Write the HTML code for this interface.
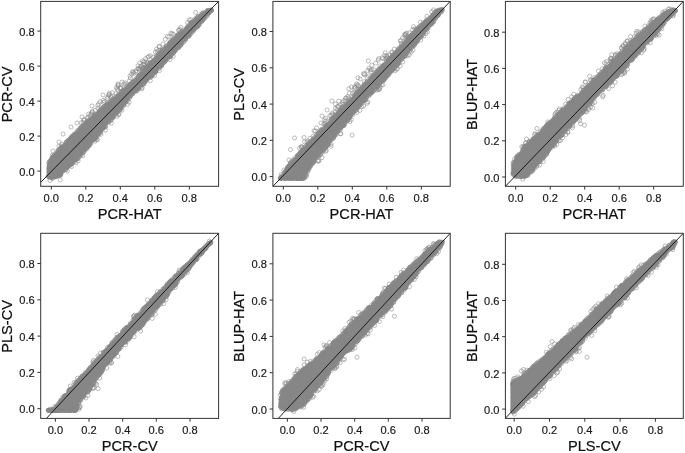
<!DOCTYPE html>
<html lang="en"><head><meta charset="utf-8"><title>Scatter plot matrix</title>
<style>html,body{margin:0;padding:0;background:#fff}svg{display:block}.tl{font-family:"Liberation Sans",Arial,sans-serif;font-size:11.1px;fill:#1a1a1a;stroke:#1a1a1a;stroke-width:0.18px}.at{font-family:"Liberation Sans",Arial,sans-serif;font-size:14.6px;fill:#111;stroke:#111;stroke-width:0.22px}.tk{stroke:#333;stroke-width:1}.pts{fill:none;stroke:none;marker-start:url(#m);marker-mid:url(#m);marker-end:url(#m)}</style></head><body>
<svg width="685" height="453" viewBox="0 0 685 453">
<defs><marker id="m" markerWidth="6" markerHeight="6" refX="3" refY="3" markerUnits="userSpaceOnUse" overflow="visible"><circle cx="3" cy="3" r="2.05" fill="none" stroke="#868686" stroke-width="0.55"/></marker></defs>
<rect width="685" height="453" fill="#fff"/>
<clipPath id="c0"><rect x="40.7" y="1.4" width="177.9" height="184.9"/></clipPath>
<g clip-path="url(#c0)">
<polygon fill="#868686" stroke="#868686" stroke-width="0.6" stroke-linejoin="round" points="47.0,165.3 50.0,159.9 59.9,148.0 69.8,138.0 79.7,128.1 89.7,118.7 99.6,109.7 109.5,101.6 119.5,93.1 129.4,84.5 139.9,74.1 149.9,62.6 159.8,52.2 169.7,41.7 179.7,32.5 189.6,23.6 199.5,15.0 207.5,9.3 213.0,9.0 213.0,9.0 207.5,15.8 199.5,24.7 189.6,36.0 179.7,46.9 169.7,57.6 159.8,68.1 149.9,78.6 139.9,88.1 129.4,99.1 119.5,110.5 109.5,122.3 99.6,133.9 89.7,145.4 79.7,157.3 69.8,166.3 59.9,176.3 50.0,179.2 47.0,177.8"/>
<polyline class="pts" points="68.3,140.6 129.9,84.4 146.8,67.7 51.8,159.5 71.6,138.3 201.1,16.5 58.7,150.5 68.5,141.1 204.4,12.8 150.2,63.0 108.3,105.1 131.9,84.1 157.0,57.7 92.7,118.2 69.9,140.4 177.8,34.8 158.3,54.0 132.1,82.6 182.6,31.1 138.1,77.8 209.8,10.6 80.9,128.4 138.9,77.2 127.3,86.7 105.6,106.7 145.2,68.3 86.1,123.0 180.2,34.1 191.0,24.3 68.4,140.6 124.5,89.7 93.0,118.0 60.8,148.0 195.7,18.5 118.4,94.9 71.5,136.5 158.8,55.5 80.6,127.8 196.6,20.1 83.0,125.7 52.5,157.9 80.3,129.2 104.4,106.7 124.8,89.6 197.4,17.3 162.8,50.2 103.3,106.9 49.8,161.0 73.5,136.7 123.3,90.7 161.7,52.1 56.1,155.0 52.7,157.6 187.4,26.7 144.6,70.7 98.2,113.1 99.7,111.3 61.8,146.7 75.7,132.8 51.1,160.7 186.3,28.5 124.4,91.3 68.1,141.8 169.7,43.0 79.5,128.8 57.3,153.6 146.3,68.7 195.7,19.9 51.5,160.0 180.7,32.8 78.6,130.3 62.4,147.1 50.0,161.3 95.6,115.3 167.7,46.4 128.9,87.3 188.6,25.6 83.1,126.1 99.3,112.5 89.9,119.8 209.4,11.3 203.2,12.8 103.6,107.8 119.4,94.7 99.2,112.3 170.9,43.0 53.6,156.1 58.2,151.8 114.1,99.5 87.7,121.2 187.3,27.9 170.1,42.9 137.6,79.0 156.8,56.0 161.9,51.5 176.7,36.3 201.0,15.8 71.9,137.7 150.9,63.0 70.8,138.0 120.6,93.6 177.5,35.6 195.5,20.9 173.0,40.0 52.9,157.8 106.7,104.8 74.1,134.6 70.9,137.9 87.6,123.1 106.3,105.9 57.1,154.0 191.5,22.5 152.6,62.3 73.5,136.4 129.7,85.8 60.1,149.8 148.4,66.3 85.5,124.0 53.4,157.6 66.1,142.5 139.2,75.1 152.7,61.5 100.9,110.0 153.8,61.0 105.4,105.8 68.7,141.4 99.3,112.6 112.6,101.4 198.5,18.5 66.2,142.2 61.3,147.2 140.2,74.5 206.9,10.8 197.6,17.1 163.2,49.1 58.1,150.4 180.9,34.0 160.4,52.6 70.9,138.7 124.2,90.4 55.2,155.7 180.1,34.3 166.3,46.5 180.6,33.3 173.2,38.9 91.4,118.1 178.1,34.7 88.4,121.0 69.9,138.9 111.8,101.3 129.6,85.3 94.4,115.4 147.6,67.6 147.0,66.2 86.8,121.7 150.3,62.5 106.3,106.6 169.0,44.3 95.2,115.7 179.6,35.2 115.9,96.9 138.8,77.7 158.8,54.1 133.1,82.4 89.8,120.6 209.6,11.2 62.9,145.7 100.9,110.0 138.2,76.2 51.8,158.7 72.7,137.7 179.7,35.0 177.1,36.5 152.7,61.8 196.7,19.9 172.4,40.2 96.6,115.1 154.0,59.6 103.5,107.1 171.5,41.6 110.9,102.1 72.4,137.3 192.5,22.9 161.6,50.6 170.6,42.7 139.9,76.6 177.0,36.9 121.3,94.1 140.9,74.4 57.4,153.2 139.1,75.4 182.2,32.7 164.1,48.9 180.3,34.3 129.4,85.6 193.3,22.1 65.0,145.2 192.4,23.1 108.6,104.1 62.1,148.4 149.8,63.2 122.5,90.9 118.1,95.8 188.4,27.2 69.9,139.8 149.4,64.2 115.7,96.8 134.7,80.6 129.9,85.4 69.3,139.9 132.0,83.7 190.1,24.0 75.4,134.8 48.9,162.8 58.2,150.5 123.3,90.8 208.8,11.7 54.3,155.3 211.5,10.0 136.0,80.5 66.9,141.9 116.5,98.0 81.4,126.8 165.5,48.5 136.9,77.9 94.8,114.7 89.4,121.1 190.9,25.1 174.2,40.2 119.4,95.2 114.3,100.0 169.4,44.7 208.1,10.9 60.2,148.2 73.4,136.7 107.1,104.7 131.3,83.6 58.9,150.7 55.9,153.1 83.4,124.9 111.1,101.1 169.7,43.4 148.2,66.6 51.8,160.3 54.5,156.8 122.0,93.4 192.2,23.1 198.9,17.6 107.6,104.8 194.3,19.9 201.2,14.1 114.5,99.4 170.8,41.4 107.6,105.3 72.5,136.7 142.5,71.4 61.3,148.1 157.1,56.3 181.3,31.4 199.0,16.3 121.4,92.4 66.5,142.4 196.8,19.3 191.5,22.5 207.6,10.6 145.6,69.3 158.8,55.8 109.0,102.5 77.4,130.8 95.4,114.2 166.6,45.7 100.9,109.2 161.8,50.5 130.4,84.3 121.5,92.1 207.6,10.7 74.6,135.0 127.9,86.9 73.5,134.9 202.6,13.2 128.1,86.5 102.1,108.3 74.9,134.3 145.6,69.9 113.2,100.4 68.1,140.4 52.4,157.3 112.0,99.9 143.8,70.9 133.1,81.9 196.4,19.6 198.3,16.4 202.4,13.8 179.7,34.4 126.3,88.8 133.9,81.5 113.0,101.1 113.3,98.8 53.9,155.9 179.6,34.2 87.8,122.1 51.9,160.3 124.4,91.4 166.2,47.1 119.4,95.3 107.4,105.2 156.3,56.4 74.0,135.5 48.9,162.9 145.3,69.0 135.1,79.5 190.7,22.8 116.0,98.4 177.5,36.5 50.0,162.0 51.5,159.0 146.4,67.9 84.6,124.2 58.2,151.8 68.2,141.9 109.2,104.0 103.0,109.5 140.6,74.2 194.3,21.4 107.7,103.6 77.6,131.8 143.0,71.1 110.9,102.0 99.7,110.7 103.7,102.4 124.9,82.9 112.3,92.6 92.4,111.8 107.2,98.5 190.8,19.8 91.3,113.5 162.9,44.1 81.3,122.7 118.0,83.9 91.2,114.4 52.2,155.4 88.7,114.1 118.2,85.8 109.4,93.4 187.6,22.6 142.4,68.1 147.1,63.8 111.0,97.6 129.2,81.1 169.0,36.9 145.6,58.7 117.1,89.1 90.2,115.9 172.0,33.8 178.7,30.0 83.1,122.3 118.1,90.0 87.0,118.3 180.9,27.4 133.3,71.9 59.0,146.3 156.7,49.2 165.3,39.3 173.3,34.2 132.7,71.7 179.9,29.2 139.8,68.4 138.4,68.6 139.8,63.0 150.3,55.7 141.3,66.1 143.1,64.4 108.9,94.9 115.9,93.7 109.0,94.7 171.0,33.1 92.2,111.6 167.4,36.3 122.0,82.1 118.0,85.1 143.5,68.0 138.0,65.8 142.5,68.8 135.7,72.2 144.4,61.5 84.4,119.9 155.4,52.0 140.8,66.9 130.4,78.0 148.7,56.6 135.9,70.9 100.2,101.8 153.1,57.2 125.7,84.8 120.7,87.6 140.0,69.6 157.3,51.5 95.3,110.3 119.9,88.3 120.9,88.3 83.8,119.9 147.6,62.6 142.3,60.9 103.3,100.5 97.8,105.3 123.9,84.0 143.9,67.4 143.7,61.9 159.4,46.8 61.8,144.1 88.1,117.0 98.8,103.8 146.9,62.7 97.9,108.3 144.8,64.2 130.0,76.0 159.1,46.4 147.9,57.2 104.7,101.4 158.9,50.2 116.4,87.6 110.9,95.9 137.8,68.7 189.2,19.9 178.9,30.6 133.9,73.4 131.6,74.0 195.6,12.4 77.1,158.7 70.2,165.0 94.8,137.0 71.1,163.7 173.8,50.6 185.4,39.2 70.4,163.2 59.1,174.0 100.7,131.0 161.0,64.6 174.9,51.1 123.5,105.5 153.1,73.5 199.3,24.6 193.1,30.6 66.5,167.8 165.4,60.0 175.9,48.5 197.6,26.2 116.4,111.8 72.9,162.0 125.6,101.7 108.5,122.2 112.4,116.6 180.3,45.3 155.2,72.7 159.9,65.7 155.3,70.9 70.5,163.7 56.7,176.7 112.6,118.0 188.1,35.9 154.7,71.4 178.4,46.5 150.3,76.4 177.2,47.7 165.4,60.8 190.0,34.5 208.5,12.4 169.9,55.8 182.0,42.4 60.0,174.2 53.0,175.8 200.3,21.5 86.5,148.9 97.7,134.3 69.4,165.5 152.3,75.5 51.9,177.2 179.6,44.6 96.5,135.3 170.5,56.3 198.2,25.5 161.6,64.2 117.5,110.3 150.7,77.3 189.0,36.3 165.1,60.5 88.9,144.6 48.3,176.2 193.0,31.4 150.5,76.5 57.5,174.8 138.5,88.4 144.8,82.2 95.7,138.1 194.1,28.7 86.8,147.5 70.9,164.2 98.3,133.5 103.2,127.4 193.8,28.9 156.1,71.0 67.2,167.2 112.3,117.8 64.1,169.8 164.2,61.3 188.9,34.9 62.5,171.4 130.0,97.0 87.6,146.2 94.3,139.4 171.0,54.2 209.2,12.6 93.3,139.6 137.1,90.8 98.5,134.0 57.3,175.3 147.0,79.5 72.8,162.0 161.2,65.8 171.0,54.3 70.6,163.7 146.0,80.6 81.6,153.9 173.7,52.7 94.5,138.3 161.5,66.0 154.6,71.1 142.5,84.5 83.1,152.3 185.5,39.2 105.9,126.1 174.9,49.6 125.8,100.6 121.4,106.1 165.2,60.7 103.6,126.7 173.7,52.2 120.9,107.6 169.9,56.7 162.8,63.6 203.9,17.2 114.8,114.2 104.9,126.1 132.7,93.8 116.5,112.4 163.3,63.0 88.5,145.3 206.0,17.0 172.1,53.6 154.7,71.5 95.4,138.0 181.3,44.2 199.6,22.4 178.4,47.8 198.4,25.2 62.3,171.6 170.0,56.7 190.8,33.7 126.0,100.5 60.3,174.7 137.1,88.8 87.3,146.2 52.4,178.2 202.3,20.8 185.2,38.4 152.3,75.0 171.3,54.7 158.5,66.9 123.8,105.1 67.1,166.4 94.9,137.5 131.0,95.7 143.6,84.3 97.0,135.1 68.1,165.7 103.8,127.8 77.8,158.6 201.5,22.0 83.7,152.1 112.4,117.6 136.9,88.9 88.9,146.0 129.2,98.2 138.8,88.1 55.2,176.5 204.3,17.9 136.3,90.3 71.2,164.3 210.1,10.9 74.9,160.1 167.8,58.5 127.1,99.2 89.8,143.3 110.0,121.1 126.9,99.4 108.6,121.7 88.0,146.3 116.1,113.8 119.3,110.4 161.2,65.8 79.8,156.3 54.5,176.8 185.4,37.9 58.5,175.0 151.8,75.8 138.1,88.8 208.9,12.7 78.5,158.0 194.4,29.2 68.6,166.0 75.5,158.7 155.5,71.3 74.5,160.1 144.4,81.9 159.1,68.2 67.8,166.7 178.2,47.2 117.2,112.6 207.5,15.4 48.9,176.0 60.0,175.7 149.9,76.1 89.7,144.2 113.8,116.8 197.9,24.0 104.1,126.8 55.5,176.4 70.7,163.1 139.2,86.8 175.6,50.0 172.8,52.3 125.3,101.8 86.8,148.2 68.3,165.8 84.1,149.6 80.3,154.7 197.6,24.6 114.7,113.5 66.4,167.6 152.9,74.0 122.9,105.0 51.8,176.5 209.6,11.2 204.1,19.2 90.6,144.0 185.3,39.9 122.5,104.8 158.8,68.3 155.5,71.7 168.5,56.6 120.1,109.3 71.3,164.0 180.5,45.1 120.1,109.5 120.4,107.5 173.0,53.0 160.8,65.8 211.2,10.2 111.4,119.7 152.4,73.6 60.9,174.7 65.7,169.5 89.3,143.9 93.5,139.9 121.1,107.3 85.0,150.0 202.4,19.9 118.0,111.3 110.5,119.8 196.7,27.6 179.1,47.3 174.8,50.6 198.7,23.3 169.3,55.3 97.7,133.9 206.6,15.3 51.5,176.9 195.9,26.9 116.6,111.9 103.1,127.2 125.8,102.2 113.4,116.4 189.8,33.6 180.8,44.9 170.9,55.8 85.6,147.8 120.0,109.7 59.5,174.0 170.3,54.5 54.0,177.4 112.7,116.4 72.1,163.3 188.4,36.4 199.5,22.1 95.1,136.7 191.8,31.4 76.6,158.9 165.0,59.8 88.6,145.0 121.0,106.2 148.4,78.0 105.3,126.9 79.8,154.9 144.6,81.3 178.8,45.4 100.5,132.6 89.8,142.9 59.7,175.1 81.0,155.1 51.3,178.1 88.4,146.1 167.5,57.6 66.0,169.7 154.3,71.4 96.0,137.9 85.0,149.0 127.3,100.8 119.4,109.2 121.2,108.0 66.5,167.2 140.7,86.7 196.7,26.5 48.5,176.8 60.4,174.4 144.3,83.2 99.9,132.7 88.8,143.9 211.0,10.7 98.2,135.3 199.9,21.8 149.4,76.6 52.0,176.7 91.1,142.3 59.6,173.8 136.3,90.6 197.8,26.4 55.7,176.2 51.7,177.2 51.9,177.1 92.3,139.9 74.6,161.6 207.7,13.1 175.7,49.7 202.9,18.9 143.3,83.6 183.3,42.0 164.7,61.9 95.5,137.8 155.3,71.5 95.0,137.5 124.1,103.0 183.6,42.0 83.6,151.3 76.0,159.1 188.4,35.1 123.9,103.5 75.9,159.0 159.4,70.6 122.0,110.2 141.5,88.8 118.6,114.8 96.9,139.7 105.5,130.1 119.0,113.9 111.3,123.2 78.1,160.8 142.2,87.8 116.8,116.3 150.3,80.7 129.1,102.1 50.0,180.5 82.8,155.8 67.3,171.1 169.9,59.6 154.5,75.7 100.9,134.3 127.5,104.2 173.2,56.3 97.2,139.5 76.0,162.8 95.0,141.2 71.5,166.6 60.2,179.9 161.0,59.9 106.8,120.1 172.0,49.7 122.6,99.4 94.3,134.5 135.7,81.8 147.3,68.7 71.9,145.1 145.2,74.0 75.0,159.2 207.7,13.7 135.2,88.8 81.1,151.7 54.1,164.1 82.6,152.4 99.8,130.6 142.2,74.8 157.1,61.2 165.1,51.8 120.2,96.4 151.6,74.8 138.9,80.8 96.2,133.8 83.4,141.3 113.3,100.5 161.5,57.4 69.3,160.0 152.6,65.3 50.4,165.6 77.5,133.9 158.2,61.5 181.1,43.6 174.4,38.7 160.5,64.8 89.2,135.1 211.0,10.4 146.8,79.2 198.1,24.7 202.5,20.2 86.6,134.4 208.0,11.9 60.5,165.9 152.8,72.9 89.6,128.5 62.6,155.0 141.5,78.3 82.3,127.3 177.5,46.1 123.6,97.0 91.8,129.1 49.0,172.2 161.9,62.2 152.7,70.5 180.7,36.7 110.6,107.1 198.9,19.2 50.9,169.4 199.5,22.2 173.9,39.0 64.0,160.8 210.9,10.4 61.9,161.7 171.7,46.1 87.6,133.7 161.7,58.3 185.9,34.8 66.6,144.3 100.9,126.9 195.6,24.2 126.3,92.0 72.4,160.6 61.4,158.0 67.4,161.8 64.6,152.1 106.2,116.1 175.9,39.5 122.2,95.8 63.3,154.2 105.5,108.8 127.3,97.4 121.4,99.2 153.4,64.7 160.0,61.1 171.1,44.6 136.0,84.4 52.0,169.4 174.8,46.1 177.0,41.4 168.1,54.7 119.6,107.3 194.2,29.3 63.0,160.6 169.9,55.9 146.0,80.4 163.2,58.6 58.2,154.4 207.7,13.0 52.0,168.6 76.4,151.3 132.8,85.6 142.1,84.8 76.5,141.6 94.7,138.5 198.9,18.7 100.3,120.6 120.9,103.1 65.5,150.2 141.4,78.3 163.4,58.6 170.0,52.8 85.6,147.1 108.3,114.1 155.6,70.9 208.5,11.2 174.8,46.0 83.4,145.5 57.9,153.5 101.5,126.1 134.9,90.1 92.2,131.0 178.1,46.6 89.6,137.1 67.6,150.9 147.0,77.7 173.2,46.4 81.0,146.2 102.4,129.3 90.1,136.4 51.8,173.4 160.3,63.9 55.4,158.8 148.6,65.7 151.1,63.5 135.0,85.7 54.0,176.2 53.2,166.1 132.5,93.9 128.4,90.1 49.6,164.0 48.8,169.0 175.4,48.4 100.9,130.7 166.0,54.1 80.0,139.2 91.1,137.6 196.1,22.6 79.8,137.2 114.8,110.9 129.8,86.2 165.2,58.2 100.2,131.1 154.8,59.9 83.9,145.6 160.1,53.2 50.5,162.5 78.0,138.7 57.1,176.0 63.9,146.4 171.2,47.6 124.0,96.4 177.0,38.3 208.8,12.9 77.9,137.3 174.6,49.9 208.3,12.1 98.4,127.9 59.8,168.6 123.7,100.1 137.1,87.7 161.2,63.9 141.8,74.8 97.1,115.1 74.0,146.9 103.4,109.8 124.8,97.7 77.8,156.4 96.6,125.3 193.8,22.6 117.3,97.9 67.8,155.0 157.5,65.9 105.9,121.6 132.5,91.8 112.2,108.6 66.1,165.8 169.4,50.6 141.4,81.7 211.2,10.4 142.8,72.9 117.7,99.1 119.2,99.1 166.9,53.6 87.2,124.0 113.4,111.7 69.1,150.1 141.1,76.4 119.6,108.7 54.1,169.9 85.2,132.6 112.6,102.2 135.3,85.7 62.4,166.7 149.8,70.9 182.7,34.4 102.3,111.0 58.1,156.7 71.3,158.3 173.7,41.2 135.3,91.6 69.6,158.4 74.9,144.7 185.3,30.6 159.8,59.6 162.5,63.5 70.3,141.7 211.4,10.4 89.2,122.2 105.8,120.1 85.8,147.7 203.5,16.5 151.8,65.7 138.8,87.7 115.8,107.0 166.0,59.8 124.8,94.7 123.6,92.6 72.2,138.5 183.7,33.0 58.0,161.9 197.6,23.9 199.1,20.0 133.9,84.4 74.1,158.7 83.2,141.0 70.2,154.5 163.3,60.8 107.2,117.5 210.1,10.6 103.7,127.1 101.7,112.4 159.3,55.9 192.8,28.0 134.4,87.7 67.3,147.6 75.3,152.3 165.7,48.4 174.1,44.9 211.3,10.4 63.0,134.0 59.0,142.0 71.0,127.0 77.0,123.0 82.0,117.0 92.0,106.0 103.0,95.0 108.0,97.0 53.0,151.0"/>
<line x1="22.9" y1="200.4" x2="236.4" y2="-16.7" stroke="#141414" stroke-width="0.95"/>
</g>
<rect x="40.7" y="1.4" width="177.9" height="184.9" fill="none" stroke="#333" stroke-width="1"/>
<line x1="51.3" y1="186.3" x2="51.3" y2="189.6" class="tk"/>
<text class="tl" x="51.3" y="201.8" text-anchor="middle">0.0</text>
<line x1="37.4" y1="171.1" x2="40.7" y2="171.1" class="tk"/>
<text class="tl" x="34.7" y="175.7" text-anchor="end">0.0</text>
<line x1="85.8" y1="186.3" x2="85.8" y2="189.6" class="tk"/>
<text class="tl" x="85.8" y="201.8" text-anchor="middle">0.2</text>
<line x1="37.4" y1="136.1" x2="40.7" y2="136.1" class="tk"/>
<text class="tl" x="34.7" y="140.7" text-anchor="end">0.2</text>
<line x1="120.3" y1="186.3" x2="120.3" y2="189.6" class="tk"/>
<text class="tl" x="120.3" y="201.8" text-anchor="middle">0.4</text>
<line x1="37.4" y1="101.1" x2="40.7" y2="101.1" class="tk"/>
<text class="tl" x="34.7" y="105.7" text-anchor="end">0.4</text>
<line x1="154.8" y1="186.3" x2="154.8" y2="189.6" class="tk"/>
<text class="tl" x="154.8" y="201.8" text-anchor="middle">0.6</text>
<line x1="37.4" y1="66.1" x2="40.7" y2="66.1" class="tk"/>
<text class="tl" x="34.7" y="70.7" text-anchor="end">0.6</text>
<line x1="189.3" y1="186.3" x2="189.3" y2="189.6" class="tk"/>
<text class="tl" x="189.3" y="201.8" text-anchor="middle">0.8</text>
<line x1="37.4" y1="31.1" x2="40.7" y2="31.1" class="tk"/>
<text class="tl" x="34.7" y="35.7" text-anchor="end">0.8</text>
<text class="at" x="129.7" y="219.3" text-anchor="middle">PCR-HAT</text>
<text class="at" transform="translate(11.9,94.4) rotate(-90)" text-anchor="middle">PCR-CV</text>
<clipPath id="c1"><rect x="272.9" y="1.4" width="177.3" height="184.9"/></clipPath>
<g clip-path="url(#c1)">
<polygon fill="#868686" stroke="#868686" stroke-width="0.6" stroke-linejoin="round" points="279.0,178.9 285.0,171.1 291.9,160.7 301.8,149.8 303.8,147.7 311.7,139.8 321.7,129.2 331.6,118.7 341.5,108.2 351.5,97.6 361.4,87.0 369.9,78.2 379.9,67.7 389.8,57.5 399.7,47.1 409.7,36.4 419.6,26.1 429.5,16.8 437.5,8.6 444.0,8.5 444.0,9.2 437.5,17.3 429.5,26.9 419.6,39.5 409.7,51.1 399.7,62.8 389.8,73.9 379.9,84.6 369.9,95.1 361.4,104.5 351.5,116.5 341.5,128.5 331.6,140.9 321.7,153.6 311.7,164.7 303.8,179.4 301.8,179.4 291.9,179.4 285.0,179.4 279.0,179.4"/>
<polyline class="pts" points="426.8,21.8 378.6,70.2 409.9,36.7 388.4,60.5 317.5,136.1 420.6,25.9 379.8,69.3 377.3,71.6 436.3,11.8 371.3,77.7 332.8,118.3 348.7,103.2 370.7,79.6 422.9,25.0 418.0,29.6 344.6,107.4 359.6,89.3 287.2,169.0 384.4,64.8 411.4,35.2 311.6,142.5 383.9,65.5 302.1,151.5 417.4,31.0 399.5,49.0 433.2,15.5 325.9,125.9 307.1,146.9 373.2,76.2 288.6,167.8 414.5,32.4 312.7,140.1 301.0,152.2 303.4,149.5 395.1,54.5 287.2,169.2 348.6,103.1 309.0,143.0 407.8,39.2 287.9,167.3 311.4,140.7 406.3,41.7 364.1,84.7 298.0,155.8 442.4,9.8 340.2,112.1 348.2,101.4 401.4,46.2 360.2,89.6 415.9,30.2 367.4,82.7 319.5,132.8 367.4,82.0 417.4,29.0 325.3,125.8 383.9,66.0 374.6,74.9 393.3,54.8 338.4,113.9 316.4,135.3 388.6,59.9 418.9,27.2 356.8,94.1 301.6,152.4 411.6,35.3 366.1,84.3 391.6,58.2 295.7,157.2 408.5,40.3 340.5,110.4 425.8,22.2 319.9,132.7 331.7,120.3 398.4,48.6 397.8,50.6 418.9,28.3 313.7,139.4 377.0,72.9 291.0,164.4 316.0,137.4 286.5,171.1 382.8,65.9 426.7,19.9 378.2,71.3 378.5,69.5 428.1,20.7 333.4,118.2 370.9,78.0 412.6,33.7 311.1,142.7 395.0,54.3 291.7,161.5 340.0,111.9 309.5,142.4 350.4,100.7 312.7,140.2 289.1,166.7 352.3,97.2 343.4,108.4 400.1,48.9 281.3,177.8 383.9,64.8 286.3,169.9 359.1,91.0 282.3,176.7 429.3,19.1 359.5,90.4 357.7,92.7 290.7,164.3 408.8,39.1 322.9,129.9 356.6,93.1 398.1,49.6 409.6,37.5 342.7,109.1 289.0,167.6 441.7,9.5 321.1,131.7 285.9,171.3 381.3,68.7 423.1,23.0 293.5,160.7 286.6,171.1 390.7,59.1 373.5,75.7 321.7,130.6 322.7,130.4 405.6,43.3 282.5,175.4 318.7,134.8 338.8,111.5 406.8,39.9 330.8,119.7 288.0,167.0 401.7,45.5 392.6,55.4 300.0,152.6 399.1,50.4 381.8,67.9 339.7,110.6 374.4,74.1 362.0,88.4 409.9,37.9 436.0,11.5 335.3,116.1 293.9,160.5 339.2,112.1 377.9,71.8 321.3,129.8 304.5,147.4 314.0,138.0 419.0,28.4 396.8,51.8 299.7,154.4 328.4,124.5 323.7,129.3 297.6,155.5 417.4,28.7 326.7,126.3 372.2,78.3 342.1,107.9 290.6,162.9 285.0,171.7 393.6,54.6 382.6,66.9 360.2,89.6 308.3,145.1 335.2,117.1 362.6,86.4 314.6,137.7 374.1,76.4 417.5,29.8 308.3,144.6 432.6,15.2 362.8,87.2 440.3,10.6 438.7,11.0 289.5,166.0 391.5,57.5 319.1,133.5 381.4,66.9 425.8,22.4 354.6,95.0 386.7,61.5 389.2,59.2 310.0,143.0 349.2,102.2 327.0,124.6 358.7,91.6 404.8,42.9 302.9,149.9 370.3,80.4 362.2,88.0 342.5,107.4 417.9,30.3 336.8,114.6 411.0,37.7 290.7,163.0 351.5,100.2 297.0,156.9 418.7,28.8 388.6,60.1 314.1,139.9 340.4,111.6 300.0,153.3 425.0,22.1 426.3,21.0 426.2,21.3 378.9,69.4 322.6,129.0 354.2,96.5 388.7,60.7 349.2,102.5 288.6,166.3 365.6,83.6 293.5,159.6 317.8,135.1 413.8,33.1 380.3,68.3 410.5,36.0 391.1,58.3 387.5,62.4 319.8,131.8 395.9,52.6 299.8,154.1 282.0,177.3 335.0,116.2 304.9,147.0 393.7,55.5 326.1,126.4 284.7,172.7 407.0,42.0 433.3,14.9 396.3,52.3 436.6,11.2 408.2,38.4 432.4,16.5 390.0,59.9 408.5,38.3 410.2,38.0 298.3,155.3 331.8,119.6 380.8,68.5 332.0,118.7 423.0,24.0 288.0,167.6 300.1,153.5 333.1,118.6 335.6,114.7 416.4,30.4 281.5,177.1 415.5,31.5 439.5,10.8 287.2,170.1 436.1,12.7 387.9,61.9 300.8,152.3 416.2,31.3 298.7,154.9 342.4,108.8 318.4,133.0 342.4,107.7 303.0,150.7 341.5,110.3 372.9,76.1 355.6,93.9 365.1,84.8 426.4,22.0 419.5,26.5 297.6,156.2 400.3,47.3 410.4,36.6 429.0,18.5 343.8,106.4 431.3,17.0 370.9,77.6 356.3,93.9 362.9,87.4 347.0,104.6 392.9,55.9 366.7,82.0 423.9,24.3 356.4,94.9 287.6,167.4 304.9,149.1 347.1,104.0 356.8,93.6 413.2,33.9 376.4,71.9 307.0,146.2 328.9,124.0 367.5,81.0 409.9,37.8 396.0,52.8 384.7,65.3 321.2,130.0 373.1,75.9 319.5,132.1 289.8,164.9 404.2,44.8 386.3,61.8 442.1,9.6 402.3,46.6 320.7,132.3 283.6,175.5 350.0,99.7 335.1,115.3 364.1,85.0 340.8,110.4 286.9,170.1 290.3,163.6 338.2,113.5 376.2,72.3 308.0,146.1 308.6,144.4 317.3,134.4 401.4,47.6 405.1,42.8 359.4,91.3 288.0,168.1 434.2,14.5 422.3,24.4 328.7,124.3 280.4,177.6 360.2,89.5 306.8,145.3 341.7,110.7 345.0,104.7 330.4,120.9 342.3,104.4 404.9,37.3 364.7,74.8 345.1,100.9 304.6,141.9 379.9,65.9 420.5,22.2 386.6,55.9 387.3,57.9 323.7,124.1 385.2,52.8 385.8,59.2 351.3,87.1 348.3,98.1 405.7,33.9 338.7,101.1 367.7,70.5 342.8,102.4 401.3,43.2 404.7,34.5 329.9,115.6 370.2,69.9 356.6,85.8 346.3,98.0 414.7,29.0 433.6,9.9 371.6,69.5 412.6,29.8 352.6,93.2 427.0,16.4 402.5,38.0 340.1,104.9 406.7,33.2 335.3,112.0 373.6,69.6 343.4,100.7 348.9,88.8 337.5,106.5 389.5,54.9 302.0,147.0 325.2,123.5 364.4,81.7 371.9,65.1 364.5,73.7 358.0,77.7 321.0,123.0 378.7,58.6 349.3,93.1 325.7,121.3 309.9,138.3 363.4,73.8 315.3,131.1 405.5,35.3 386.5,58.1 383.0,58.6 357.7,84.8 392.0,52.0 382.2,57.7 375.6,63.1 387.3,56.5 371.0,71.7 335.3,108.3 384.7,55.4 354.4,92.2 400.9,40.6 360.1,79.0 378.2,60.2 338.8,106.6 281.1,174.5 324.8,119.9 354.6,88.7 332.7,114.3 336.9,109.5 409.2,33.0 313.3,136.2 283.9,170.0 354.7,86.9 394.3,49.1 314.1,130.8 316.5,127.9 332.1,113.1 391.7,52.8 431.8,11.9 306.8,141.9 347.9,96.5 367.3,77.7 369.1,68.2 331.4,115.3 407.3,36.8 356.7,83.9 307.9,141.1 301.7,147.7 299.5,147.9 405.1,35.0 301.3,146.6 368.7,76.1 325.6,118.2 345.6,98.2 413.4,26.7 355.4,87.5 358.4,85.6 400.3,40.9 368.3,60.9 374.4,89.6 414.6,43.9 356.9,108.0 353.8,111.3 428.6,27.3 326.0,146.5 328.9,144.0 369.2,95.2 297.4,178.3 306.2,174.7 364.2,100.3 384.7,77.1 440.7,12.2 297.6,178.3 286.0,178.3 392.6,69.2 426.8,29.1 294.2,177.6 328.1,144.2 391.4,70.6 384.8,78.1 422.5,34.9 388.3,75.3 435.4,18.9 327.4,144.2 402.0,59.1 376.3,86.2 343.9,125.3 397.9,62.8 418.5,38.5 374.6,89.3 397.1,64.5 347.0,121.1 420.9,36.5 342.4,124.9 381.9,80.5 377.3,86.8 363.7,99.3 430.5,23.8 395.1,65.7 376.2,86.1 396.7,63.7 396.0,64.9 333.6,137.5 331.2,139.3 379.6,83.0 302.0,178.2 412.8,45.2 405.9,55.4 384.8,77.8 333.9,135.5 440.5,11.9 401.4,59.6 421.1,37.0 397.7,64.4 371.2,92.9 325.8,145.6 308.8,168.5 413.7,45.4 381.5,80.4 318.0,155.9 313.5,161.8 359.3,105.2 383.7,80.2 404.7,55.4 358.2,106.9 320.3,154.8 390.7,71.0 300.4,178.3 307.4,172.1 340.4,127.9 371.7,92.0 282.1,177.4 301.3,177.9 395.8,65.8 346.8,120.4 352.8,114.7 356.8,109.8 307.9,169.2 438.2,14.4 431.3,24.0 383.7,78.6 294.1,176.9 392.4,68.7 412.5,46.1 334.3,136.0 303.9,177.5 398.9,63.0 383.8,79.0 343.8,123.4 327.7,144.7 432.2,22.7 293.4,177.9 330.2,140.5 358.1,106.2 376.2,85.7 321.2,151.5 377.0,87.1 297.6,178.1 366.7,97.1 293.0,177.5 343.3,125.8 396.6,65.2 312.0,163.3 304.1,177.1 438.3,15.1 349.8,117.6 288.5,178.3 349.2,117.4 323.9,149.7 413.9,45.5 424.1,31.3 404.7,55.8 390.2,72.6 373.2,91.2 288.5,177.9 386.4,76.5 342.9,125.2 325.5,147.7 372.2,91.3 318.9,156.1 441.9,11.2 377.7,84.4 402.6,57.4 296.9,178.2 285.0,178.3 307.4,170.8 309.4,167.2 369.8,93.4 387.2,74.1 426.8,29.3 294.7,176.9 361.1,103.6 387.8,73.4 347.7,118.5 290.9,178.2 294.9,178.0 280.5,178.3 332.0,137.9 305.5,175.8 435.7,18.0 383.1,80.7 295.2,177.1 388.8,74.1 362.2,102.6 416.0,42.7 310.1,165.7 336.2,134.1 359.7,105.4 363.4,99.9 302.6,178.1 416.0,41.2 305.0,174.6 355.4,110.5 372.9,91.2 351.3,114.2 335.2,134.8 398.2,63.4 365.5,99.6 391.8,70.4 404.8,56.6 431.5,22.8 360.3,104.7 347.9,119.9 430.7,24.6 438.3,14.1 423.0,32.7 312.6,163.5 428.9,26.1 385.7,77.9 365.2,100.0 300.7,176.7 305.8,174.7 421.9,35.0 326.6,144.8 357.2,107.8 349.6,117.7 342.6,125.2 349.2,117.1 325.2,147.2 427.4,28.3 363.9,99.7 327.5,145.0 314.1,161.0 411.2,48.4 409.2,49.1 414.5,45.0 377.3,87.0 333.5,137.6 314.0,161.7 340.6,128.6 293.8,176.9 324.5,147.4 336.3,134.2 298.1,178.3 304.1,177.7 298.8,176.8 343.2,125.6 431.9,21.9 437.2,15.8 296.1,177.0 377.2,86.5 389.0,72.1 382.3,80.8 363.7,99.5 324.9,147.4 355.7,110.6 285.4,178.1 387.1,76.0 407.4,51.4 293.1,178.3 308.3,170.2 430.1,23.7 440.5,11.2 349.0,117.5 417.7,40.8 371.7,91.2 324.0,148.9 392.4,70.0 338.2,129.9 304.3,175.9 406.3,53.3 310.4,164.6 433.2,21.4 311.8,164.0 332.3,139.0 411.2,47.7 417.0,40.1 345.3,121.7 379.6,84.1 434.7,18.3 327.0,144.4 323.3,149.9 296.3,178.0 392.7,69.3 393.0,69.6 299.2,178.3 397.8,63.5 326.5,145.9 363.4,100.8 371.7,91.9 375.3,87.1 370.1,94.2 344.9,123.8 394.6,66.0 313.7,160.8 422.5,34.1 343.0,125.3 406.5,53.6 379.4,84.0 353.5,112.6 357.5,107.0 365.6,99.5 348.1,118.1 371.6,92.6 357.6,107.7 418.2,38.9 322.1,152.5 403.2,56.9 346.9,120.3 419.5,38.0 415.6,41.9 291.4,178.3 432.0,23.1 413.0,44.7 387.2,74.2 310.7,166.1 416.4,41.4 376.6,87.6 317.2,156.0 384.6,77.0 298.8,177.5 394.4,67.4 310.8,164.5 329.5,142.0 282.8,177.1 340.6,127.3 379.1,83.1 387.3,74.4 347.7,120.4 325.2,148.3 294.7,177.5 337.8,131.6 408.0,50.5 433.0,22.3 430.9,24.0 292.9,177.0 300.1,178.1 339.7,130.2 371.2,92.7 287.3,176.8 293.8,177.3 415.1,42.5 351.3,114.6 409.8,50.8 394.9,67.4 405.8,53.9 348.5,118.3 432.3,22.2 299.3,176.8 322.9,150.9 383.9,79.4 320.2,154.5 417.4,40.0 414.6,43.2 409.2,49.5 423.9,32.2 383.9,80.0 309.1,168.3 333.3,138.2 344.3,124.9 383.9,78.3 394.0,68.4 396.9,64.4 321.8,150.8 431.4,23.8 368.9,95.4 313.2,162.1 433.6,21.6 389.9,72.2 391.7,70.3 379.2,83.6 370.0,93.3 398.1,62.9 388.9,72.5 366.9,103.2 379.8,87.8 340.9,133.8 361.7,106.7 359.8,110.4 367.9,101.9 319.0,160.5 379.2,89.0 326.4,150.2 330.9,146.4 409.2,54.6 291.1,178.3 306.6,176.4 381.4,84.9 318.5,161.2 420.7,40.1 351.2,119.5 356.9,112.4 376.7,90.1 340.5,133.7 317.6,160.9 395.0,70.8 331.0,144.4 363.6,105.9 302.3,178.3 407.7,55.8 400.0,65.9 397.3,68.7 300.9,178.3 378.1,89.7 427.4,32.1 402.8,61.9 425.9,33.4 413.0,50.0 379.1,89.4 325.7,151.3 411.2,52.0 321.9,157.6 296.8,178.3 423.9,35.9 383.0,84.9 396.4,69.2 349.9,121.5 352.1,135.1 342.4,112.3 334.6,133.7 351.1,113.8 433.1,18.8 377.5,85.2 436.4,11.2 312.9,141.3 365.0,91.9 398.0,52.7 415.2,32.1 296.1,177.5 346.0,111.9 422.9,32.6 380.2,72.6 302.4,168.0 348.4,103.1 361.8,97.2 348.5,112.5 357.2,100.2 437.8,14.2 364.5,88.3 366.0,93.5 291.6,166.8 285.2,172.3 354.9,101.1 383.0,76.5 315.0,141.1 373.6,86.8 294.7,165.7 324.2,138.2 365.1,85.3 329.7,125.2 352.4,108.8 396.6,64.1 308.4,150.9 387.2,71.2 437.6,15.3 415.1,41.9 340.9,127.3 384.4,65.7 297.6,170.7 398.1,53.9 402.4,45.8 315.5,148.1 341.7,126.5 378.8,75.0 387.6,64.6 381.3,81.8 402.5,54.1 419.4,29.2 356.5,93.7 281.5,177.1 412.0,36.1 297.0,175.8 366.5,93.4 396.7,53.8 412.2,40.2 366.5,89.5 383.4,77.7 438.1,15.2 406.1,41.5 325.9,126.4 433.2,18.5 390.9,58.2 328.9,131.2 324.6,141.0 352.1,106.7 363.1,89.2 418.4,31.7 354.3,104.5 396.3,53.8 334.3,135.1 356.4,97.5 332.5,135.6 343.7,110.4 394.4,60.7 317.2,153.4 359.8,100.2 401.4,48.1 280.7,178.1 346.5,110.7 406.5,47.5 387.3,75.1 413.5,37.8 321.4,138.6 380.4,76.2 329.8,126.2 292.9,175.3 408.7,38.6 328.3,138.9 399.9,60.3 406.2,45.5 412.0,44.5 326.9,140.1 411.3,45.5 319.3,147.7 388.7,67.6 280.4,178.3 408.6,44.1 289.4,167.0 397.5,59.2 383.4,72.7 289.3,166.4 375.2,75.3 395.5,57.1 412.3,37.2 440.9,10.0 318.6,150.9 349.3,106.6 339.5,112.6 388.3,73.4 310.3,165.1 371.3,90.0 318.3,144.0 313.3,161.0 403.5,56.2 369.5,89.3 407.5,48.8 388.3,70.4 419.4,33.6 357.6,106.2 281.1,178.2 316.9,151.3 414.9,37.6 311.9,148.3 363.3,100.9 326.6,137.3 387.4,74.6 292.1,165.3 290.9,165.7 355.2,106.8 419.1,35.3 355.9,100.7 298.5,166.8 296.4,171.4 330.2,132.4 372.4,80.8 323.5,132.1 394.4,59.1 348.2,107.4 410.1,45.9 292.6,178.2 414.7,42.5 428.0,21.7 320.9,137.8 318.2,147.4 424.6,30.7 347.3,108.4 344.6,110.9 375.4,80.5 369.6,91.0 413.1,39.5 389.5,59.0 395.4,62.2 350.0,115.3 363.8,96.2 420.1,27.1 422.0,27.8 379.9,76.5 376.5,79.6 329.0,124.1 358.3,96.0 311.4,150.5 359.1,98.4 288.9,178.2 321.5,146.4 326.1,136.8 357.2,92.8 391.6,57.2 295.1,173.8 384.7,72.0 406.9,49.2 306.4,149.7 301.9,177.7 295.7,168.2 383.3,73.6 344.4,118.3 285.3,175.9 298.2,173.3 339.0,115.9 287.6,168.8 409.8,42.7 310.9,159.9 412.7,43.6 284.8,174.7 334.8,130.9 432.4,20.7 304.0,171.9 285.0,178.1 417.2,35.0 410.5,45.8 360.9,102.8 299.8,160.4 327.4,144.9 352.3,103.4 437.9,13.7 314.3,141.2 388.0,63.1 395.7,53.7 422.6,30.8 390.2,58.5 340.8,118.8 352.0,110.6 357.4,96.7 376.1,75.6 366.8,96.9 295.9,161.6 406.6,48.4 339.1,120.4 382.1,79.8 330.3,133.9 352.8,105.3 281.3,178.2 384.5,68.6 310.1,162.0 436.5,15.3 414.4,39.2 416.3,42.3 417.2,37.1 335.7,126.9 362.5,97.7 431.2,17.4 356.7,100.1 434.1,13.2 413.3,35.4 359.6,90.6 366.0,92.0 364.8,89.5 323.3,132.3 336.7,121.9 349.5,117.0 367.0,83.1 423.5,24.6 359.0,104.5 371.2,81.1 395.7,61.7 410.9,37.3 439.5,9.8 400.9,55.2 377.8,81.9 397.3,53.4 299.2,165.1 401.0,49.0 281.1,178.3 282.2,178.3 283.3,178.3 284.4,178.3 285.5,178.3 286.6,178.3 287.7,178.3 288.8,178.3 289.9,178.3 291.0,178.3 292.1,178.3 293.2,178.3 294.3,178.3 295.4,178.3 296.5,178.3 297.6,178.3 298.7,178.3 299.8,178.3 300.9,178.3 302.0,178.3 303.1,178.3 304.2,178.3 294.5,138.0 290.5,149.5 304.0,137.5 289.0,160.0 322.0,116.0 327.0,110.0 332.0,101.0 335.5,104.0"/>
<line x1="255.2" y1="204.8" x2="467.9" y2="-17.1" stroke="#141414" stroke-width="0.95"/>
</g>
<rect x="272.9" y="1.4" width="177.3" height="184.9" fill="none" stroke="#333" stroke-width="1"/>
<line x1="283.3" y1="186.3" x2="283.3" y2="189.6" class="tk"/>
<text class="tl" x="283.3" y="201.8" text-anchor="middle">0.0</text>
<line x1="269.6" y1="176.6" x2="272.9" y2="176.6" class="tk"/>
<text class="tl" x="266.9" y="181.2" text-anchor="end">0.0</text>
<line x1="317.8" y1="186.3" x2="317.8" y2="189.6" class="tk"/>
<text class="tl" x="317.8" y="201.8" text-anchor="middle">0.2</text>
<line x1="269.6" y1="140.3" x2="272.9" y2="140.3" class="tk"/>
<text class="tl" x="266.9" y="144.9" text-anchor="end">0.2</text>
<line x1="352.3" y1="186.3" x2="352.3" y2="189.6" class="tk"/>
<text class="tl" x="352.3" y="201.8" text-anchor="middle">0.4</text>
<line x1="269.6" y1="104.1" x2="272.9" y2="104.1" class="tk"/>
<text class="tl" x="266.9" y="108.7" text-anchor="end">0.4</text>
<line x1="386.8" y1="186.3" x2="386.8" y2="189.6" class="tk"/>
<text class="tl" x="386.8" y="201.8" text-anchor="middle">0.6</text>
<line x1="269.6" y1="67.8" x2="272.9" y2="67.8" class="tk"/>
<text class="tl" x="266.9" y="72.4" text-anchor="end">0.6</text>
<line x1="421.3" y1="186.3" x2="421.3" y2="189.6" class="tk"/>
<text class="tl" x="421.3" y="201.8" text-anchor="middle">0.8</text>
<line x1="269.6" y1="31.5" x2="272.9" y2="31.5" class="tk"/>
<text class="tl" x="266.9" y="36.1" text-anchor="end">0.8</text>
<text class="at" x="361.5" y="219.3" text-anchor="middle">PCR-HAT</text>
<text class="at" transform="translate(244.1,94.4) rotate(-90)" text-anchor="middle">PLS-CV</text>
<clipPath id="c2"><rect x="505.4" y="1.4" width="177.9" height="184.9"/></clipPath>
<g clip-path="url(#c2)">
<polygon fill="#868686" stroke="#868686" stroke-width="0.6" stroke-linejoin="round" points="511.4,165.0 515.0,157.6 524.9,145.8 529.8,140.9 534.8,136.4 544.7,127.0 554.7,116.7 564.6,107.3 574.5,97.8 584.5,88.9 594.4,79.4 603.9,69.5 613.9,58.9 623.8,48.9 633.7,39.3 643.7,30.0 653.6,21.8 663.5,13.7 671.5,9.3 677.0,10.0 677.0,10.0 671.5,15.5 663.5,24.5 653.6,36.1 643.7,47.3 633.7,58.4 623.8,69.6 613.9,79.4 603.9,89.5 594.4,99.2 584.5,110.4 574.5,121.7 564.6,132.6 554.7,143.7 544.7,156.7 534.8,169.0 529.8,174.8 524.9,177.4 515.0,177.0 511.4,173.5"/>
<polyline class="pts" points="648.6,26.2 533.7,139.1 604.6,69.1 668.0,12.2 546.4,126.2 632.1,42.4 593.2,80.9 653.9,22.3 654.5,23.6 594.1,80.0 589.3,85.4 638.8,36.0 629.5,43.8 566.1,106.8 667.7,13.1 594.8,80.0 552.2,120.8 576.9,98.2 577.8,95.3 594.1,81.6 568.5,103.8 587.3,87.4 672.6,11.5 553.8,119.0 562.5,111.0 574.0,99.7 549.7,122.4 548.2,123.9 591.8,83.6 580.4,94.9 524.3,147.4 597.6,78.1 589.9,85.5 669.0,11.7 652.5,24.6 617.7,55.4 598.1,76.4 530.1,141.8 618.1,56.5 665.9,12.6 671.4,9.7 665.3,15.2 633.7,40.9 568.4,106.1 541.4,132.8 548.3,124.0 576.7,97.0 530.6,142.8 562.0,110.0 672.4,12.0 635.0,40.8 627.9,47.0 537.6,134.9 595.3,80.4 592.8,81.2 664.7,14.1 622.3,50.6 561.4,111.6 554.3,119.0 529.1,141.8 594.0,82.2 615.3,57.9 577.5,96.0 666.8,13.0 636.0,37.7 602.4,73.1 577.0,97.5 620.2,54.2 625.9,48.2 633.2,41.5 563.4,109.6 578.1,96.4 550.4,123.6 534.2,139.0 562.6,110.3 554.4,119.4 558.4,114.2 590.8,84.8 574.9,99.5 632.7,41.5 554.1,119.7 629.8,45.7 658.8,18.1 594.2,80.0 644.9,29.9 524.2,146.9 554.7,119.4 525.8,145.8 593.1,81.3 574.2,99.8 591.3,84.9 549.6,124.3 517.2,157.4 637.2,36.8 666.7,12.8 543.0,129.0 633.7,41.3 569.6,103.6 634.2,40.7 611.0,62.3 636.5,38.7 675.4,10.6 558.1,116.1 657.0,19.8 545.4,127.7 643.1,32.9 537.5,135.6 544.6,127.5 582.6,93.1 545.7,128.0 645.1,30.9 517.6,156.0 568.7,104.0 606.0,69.1 644.0,30.7 673.0,11.8 600.2,74.4 543.3,130.2 549.3,123.8 612.6,60.9 535.8,137.3 651.6,26.1 650.9,24.4 631.4,43.2 672.2,11.3 585.9,89.8 670.3,10.9 544.5,129.5 553.9,119.6 599.4,74.9 658.4,19.9 513.0,163.1 653.2,22.9 573.2,99.9 654.3,22.2 653.4,24.0 658.3,18.5 604.8,70.4 531.3,141.7 561.3,111.9 570.1,104.5 619.0,55.7 567.6,105.9 592.7,83.7 571.2,102.5 614.2,59.2 536.7,135.3 575.8,98.9 656.9,21.4 558.7,114.1 592.0,82.8 640.2,34.0 626.3,48.8 588.6,87.6 523.6,149.9 655.0,21.9 663.7,15.9 642.4,31.9 638.2,35.5 657.9,19.9 656.1,20.8 590.0,85.0 576.3,96.6 586.8,87.3 533.5,138.9 543.2,129.9 625.4,49.3 633.6,41.5 626.1,47.8 607.3,67.3 537.0,135.2 573.9,98.9 668.9,11.9 669.2,12.2 560.2,114.1 573.4,100.9 542.0,131.8 570.9,103.6 585.5,90.4 558.1,115.9 661.6,15.9 524.1,147.7 584.0,90.2 523.0,150.3 570.9,102.7 637.8,38.0 528.1,144.2 607.4,66.1 606.2,67.9 605.6,68.9 594.6,79.8 613.8,60.6 555.1,116.6 555.2,117.1 639.9,33.8 540.3,131.7 647.8,28.6 660.0,18.0 605.7,70.2 557.8,114.3 583.7,90.3 596.1,78.0 626.8,46.7 667.0,12.7 582.1,92.3 545.4,127.1 562.6,109.8 668.6,12.1 546.6,125.4 553.2,120.5 516.7,157.2 612.8,61.6 589.5,85.5 648.0,28.1 617.7,57.8 619.5,54.4 624.8,49.6 587.2,87.0 560.5,112.4 514.5,159.1 577.1,97.9 513.5,162.6 546.8,127.0 573.8,100.6 597.9,76.3 574.4,99.7 547.1,125.1 636.1,38.8 563.9,108.4 570.0,102.7 548.4,123.7 523.1,149.5 636.5,37.2 586.7,87.9 603.0,71.7 655.8,22.7 657.5,20.7 607.3,67.6 668.1,13.2 601.3,72.5 657.3,19.9 589.3,85.2 555.4,117.9 594.0,80.4 538.1,135.8 574.5,98.9 549.4,124.6 586.4,89.4 526.7,145.4 583.4,90.1 605.8,68.0 675.3,10.8 620.5,53.6 586.7,89.3 635.5,40.1 664.1,14.3 625.8,49.6 543.1,130.0 612.3,61.0 593.9,80.2 663.0,15.2 621.7,52.2 672.0,10.1 519.1,155.2 627.0,46.7 547.4,126.3 588.9,85.5 651.2,25.1 548.2,125.5 653.9,22.6 533.2,138.6 562.0,112.1 547.4,126.0 673.4,10.3 529.0,142.4 644.2,30.1 598.1,77.8 630.8,43.3 525.8,147.2 587.8,87.4 603.2,72.4 559.6,114.1 619.1,55.0 525.2,146.4 524.7,147.2 619.4,54.9 555.1,119.0 653.6,22.8 605.1,70.3 657.3,19.6 652.2,24.8 628.3,46.5 673.9,10.0 552.2,121.3 604.5,71.2 532.8,140.6 629.1,46.1 647.2,28.2 659.7,17.4 599.1,75.6 664.8,15.4 574.5,99.7 570.1,103.5 633.0,40.2 663.7,13.9 524.7,147.7 595.7,80.4 585.3,89.8 516.9,156.5 529.7,141.2 647.3,27.8 668.2,12.9 605.8,68.4 551.2,121.8 673.6,10.0 581.5,93.1 533.5,138.9 641.9,32.0 627.3,47.7 625.7,49.2 574.9,97.9 558.1,115.2 549.3,124.6 611.2,63.3 563.4,110.5 631.7,41.8 662.8,14.6 651.5,24.3 636.7,31.3 558.6,110.4 650.9,22.3 521.8,146.8 590.9,80.8 583.1,87.9 644.9,26.0 621.3,47.7 610.7,58.1 636.2,33.1 630.2,40.7 630.5,36.5 585.6,82.0 580.9,89.5 535.5,133.9 582.2,86.9 669.1,8.8 555.6,113.0 590.6,79.9 568.2,99.4 611.2,58.8 547.9,121.9 573.8,94.2 559.4,109.0 565.6,104.1 627.2,41.4 617.2,53.7 554.9,114.6 621.7,48.1 585.1,82.1 653.4,19.6 638.3,31.9 625.3,43.0 594.0,77.8 525.5,143.0 627.3,40.8 571.6,96.9 606.7,61.5 625.3,44.5 623.4,45.7 525.7,143.0 534.4,134.3 611.7,54.8 662.7,12.4 622.7,45.8 615.5,55.4 610.6,59.0 615.3,54.5 556.9,112.0 602.5,68.6 649.8,23.2 668.6,9.1 606.0,64.0 610.1,60.9 634.5,36.6 653.8,18.7 598.5,71.0 604.5,62.8 652.3,19.6 664.9,11.2 651.0,20.8 589.7,76.3 607.7,83.1 634.0,55.5 632.7,58.8 545.4,154.8 523.9,175.8 573.2,120.9 546.4,154.2 669.8,16.5 624.3,67.1 562.2,134.6 647.8,41.9 610.8,79.8 518.2,175.4 547.4,151.3 554.1,144.1 663.1,24.0 617.4,75.5 542.6,158.4 651.7,37.8 575.7,119.8 603.1,89.5 513.4,173.0 578.2,117.2 622.5,69.9 583.3,110.8 620.7,71.5 526.9,174.7 513.9,174.5 526.9,175.3 617.1,75.2 548.2,150.2 646.7,42.9 642.3,46.9 532.7,170.0 521.0,176.4 622.0,69.3 627.2,64.1 658.3,28.8 569.3,127.0 515.8,175.7 636.5,53.8 610.4,81.7 669.4,16.7 561.7,135.3 513.0,173.6 520.7,175.1 657.9,29.4 570.0,125.7 523.7,176.7 516.2,175.9 617.2,75.2 571.1,124.8 634.3,56.5 612.1,80.2 549.7,148.7 612.1,79.0 576.8,118.0 622.5,68.9 552.1,146.4 561.6,135.2 539.4,161.0 533.6,168.4 578.2,115.5 613.0,78.1 608.4,82.5 542.9,156.3 575.7,118.3 583.8,108.7 547.5,152.2 614.2,77.7 567.8,128.4 527.7,175.5 624.6,67.5 540.0,161.5 569.8,125.1 639.2,51.1 532.5,171.1 602.6,89.4 609.2,83.1 556.1,140.0 530.2,172.4 578.4,114.7 549.9,147.3 575.0,119.5 534.6,168.4 577.6,116.5 663.9,23.1 512.9,173.4 606.2,85.1 580.5,113.0 651.4,37.3 638.6,52.0 586.3,108.2 553.8,142.6 667.6,17.6 647.3,41.6 657.6,29.2 525.6,176.4 576.5,117.5 588.9,104.5 560.2,135.3 548.3,150.8 565.3,130.4 539.7,161.8 669.8,16.2 660.7,25.4 614.3,76.4 606.2,86.3 675.4,10.7 594.0,97.0 637.6,52.6 516.8,175.4 581.7,111.3 543.1,156.8 525.4,175.6 650.9,36.7 632.5,58.1 570.2,124.3 531.6,170.2 643.5,46.5 569.7,124.7 640.8,49.8 611.7,80.1 630.8,59.9 610.4,80.6 670.5,15.6 551.2,145.6 655.8,31.4 614.8,76.0 626.6,65.6 674.4,11.2 517.0,175.7 555.8,139.9 631.4,58.7 642.0,48.6 552.7,143.8 589.5,103.7 653.7,34.7 672.7,13.9 672.3,13.1 546.0,152.5 574.3,120.6 582.6,112.2 591.7,99.9 653.8,34.5 591.6,101.9 560.0,135.8 616.0,76.7 642.0,47.5 611.8,80.3 665.0,21.9 673.8,11.7 635.1,55.9 658.5,29.0 525.8,175.3 607.6,84.3 515.3,176.6 556.2,140.5 617.8,73.0 625.1,65.7 648.6,40.5 650.3,37.8 556.4,141.2 584.7,108.2 639.1,51.8 546.0,154.6 657.1,30.1 516.6,176.0 573.9,120.8 518.4,176.8 558.1,139.2 650.8,38.9 674.3,11.2 582.0,112.7 550.6,146.5 565.0,131.8 650.4,39.1 543.4,156.3 638.7,51.1 562.7,134.5 552.7,145.3 659.9,28.2 547.8,151.6 667.3,19.1 584.8,108.6 632.4,59.5 649.7,38.7 601.5,89.5 672.1,13.9 629.8,61.0 583.8,109.9 520.8,176.3 542.9,157.4 654.8,34.4 667.4,18.2 516.6,175.5 579.4,115.3 585.5,109.0 538.1,162.4 516.9,175.2 654.1,35.3 648.9,39.3 657.9,30.6 560.7,135.7 658.3,30.1 672.8,11.8 643.3,46.0 568.7,126.1 573.5,121.7 594.3,98.2 662.8,24.9 594.2,97.0 582.0,112.7 521.6,175.5 565.3,131.2 546.4,154.0 589.8,104.1 590.3,102.9 543.6,157.5 525.6,174.8 616.3,75.3 551.5,147.3 621.3,71.8 605.5,86.5 655.4,31.7 555.0,142.6 672.3,13.0 651.5,37.7 593.3,97.8 569.1,126.9 546.1,154.1 605.5,86.1 541.9,159.2 570.2,124.1 521.9,175.2 622.0,69.4 611.1,79.7 624.0,68.1 651.1,38.6 602.4,90.0 572.9,122.6 553.1,145.2 597.7,94.6 583.8,110.8 584.0,110.7 555.8,141.0 544.0,157.0 643.0,45.9 672.9,13.5 622.1,70.8 611.4,80.3 539.7,160.7 585.2,107.4 667.2,18.0 670.6,15.1 523.6,176.5 650.8,39.0 547.3,150.7 667.9,17.8 548.8,148.8 639.2,50.0 669.9,15.4 519.2,175.0 513.5,174.9 599.8,91.2 582.8,110.0 667.3,18.9 559.9,136.7 514.8,175.3 655.4,32.4 611.0,81.7 596.6,94.3 615.8,76.4 661.1,27.0 554.8,141.9 553.0,145.4 675.2,10.8 597.2,93.8 517.0,175.0 637.4,54.0 604.9,86.2 519.1,176.5 573.4,121.1 609.7,83.0 654.6,33.0 620.9,70.5 616.9,75.4 634.9,56.3 581.1,111.9 645.8,42.4 631.4,60.4 527.2,173.5 631.4,59.3 659.3,28.4 667.6,18.4 584.5,110.0 531.5,171.3 605.5,86.2 527.8,174.4 606.4,86.7 635.2,54.7 609.7,82.2 626.3,66.2 635.5,54.2 590.7,101.6 554.1,144.3 641.9,48.1 595.6,95.8 627.2,63.9 575.7,119.2 661.2,25.0 576.8,117.7 610.8,82.0 616.4,76.4 599.0,92.0 643.0,47.3 555.9,140.8 521.7,176.5 537.1,165.1 582.1,112.1 627.6,65.1 536.8,166.3 581.0,114.0 615.7,75.6 545.7,154.5 618.1,74.0 619.1,72.5 549.4,149.1 659.2,27.1 641.4,52.8 657.8,33.7 562.5,137.9 621.2,74.6 672.8,15.9 643.7,50.1 579.6,120.5 556.7,144.3 590.7,106.7 560.4,140.6 572.3,127.7 572.9,125.8 656.1,35.3 586.6,111.9 615.2,82.2 622.5,73.7 624.6,73.3 588.6,109.5 559.0,140.8 565.8,134.5 650.4,42.7 554.7,145.9 673.4,15.1 623.8,72.0 567.9,132.0 627.3,69.1 585.3,111.5 522.7,179.1 661.8,28.8 603.1,95.3 592.4,103.4 588.2,108.2 567.8,132.3 608.6,88.6 539.6,165.0 543.3,161.5 656.2,35.1 579.3,118.4 644.3,48.9 624.8,71.4 594.6,102.4 659.2,35.1 588.3,99.5 559.4,114.3 575.6,99.4 672.6,10.7 600.8,75.7 541.8,133.9 533.1,146.9 617.1,62.6 601.8,82.6 595.1,87.9 613.3,74.1 523.7,159.9 521.9,176.0 557.8,132.3 557.8,114.8 629.7,51.6 655.5,24.7 606.2,82.2 642.0,33.5 643.0,45.2 577.3,109.4 605.5,84.6 644.6,35.3 668.8,17.0 645.1,30.8 580.3,108.4 527.1,148.1 552.4,143.3 599.1,81.1 546.0,143.4 633.5,45.8 555.4,133.1 583.5,99.8 577.7,101.4 674.2,10.9 580.5,112.1 623.1,59.4 669.8,13.1 634.5,52.6 630.2,56.1 648.8,38.0 578.2,111.5 550.8,144.7 549.0,144.4 528.2,163.3 524.0,170.1 654.7,32.8 664.2,15.8 648.0,33.0 548.5,136.6 518.0,169.4 633.5,44.3 602.2,82.3 608.1,73.1 577.7,99.5 610.3,67.8 634.4,55.9 591.6,87.3 583.1,95.5 584.0,97.5 517.8,157.1 572.7,107.1 575.4,117.6 553.2,129.3 626.5,57.5 644.3,38.3 576.8,114.5 633.1,53.2 596.3,90.6 562.2,119.0 516.4,166.6 562.8,111.2 657.8,20.8 649.9,33.1 667.7,17.6 641.9,39.0 617.2,57.9 520.6,169.5 523.5,158.2 650.4,30.0 534.1,165.9 532.3,156.1 662.7,23.9 580.1,114.1 526.1,146.5 548.9,143.4 550.8,135.6 592.9,82.7 524.3,167.0 596.3,85.6 564.3,123.3 525.1,149.9 584.2,92.7 609.0,77.6 562.2,123.8 566.2,110.0 567.0,120.2 669.6,14.9 654.9,28.1 565.2,123.9 633.7,42.4 651.7,36.6 623.1,53.4 627.3,48.1 524.8,164.0 645.1,42.0 520.9,172.4 674.7,11.0 545.2,137.9 548.4,142.7 588.5,88.1 575.2,112.6 531.6,141.3 538.7,134.4 671.6,12.7 545.4,142.8 516.9,163.9 564.0,114.7 590.0,100.0 523.0,166.3 624.4,54.3 589.6,87.7 648.7,36.4 551.8,145.2 519.3,171.1 602.9,75.5 517.6,168.1 634.7,41.0 584.5,105.3 628.7,46.7 570.3,109.8 649.4,27.7 603.8,71.2 564.7,113.7 566.6,112.8 619.4,67.7 558.4,126.4 563.6,130.0 666.8,15.6 548.2,137.8 625.5,60.3 537.7,149.1 544.1,139.1 625.9,61.5 574.3,116.5 586.4,104.6 549.6,128.5 663.1,19.1 630.2,51.5 552.4,141.0 570.9,107.6 555.8,123.1 642.3,43.4 614.1,75.4 564.9,127.0 600.5,75.1 639.5,42.2 552.0,129.9 576.5,113.5 578.7,104.2 603.6,74.7 518.7,154.5 566.3,128.4 545.8,150.8 534.1,155.2 568.5,119.3 549.7,137.6 620.7,59.8 528.5,152.6 648.7,33.8 655.1,25.1 668.7,15.1 529.8,157.1 523.0,161.1 669.6,11.7 526.8,168.2 532.2,162.5 544.4,151.2 612.4,65.0 643.1,38.7 522.5,166.3 570.4,118.9 574.2,109.5 667.8,15.2 613.4,78.5 587.7,95.1 573.9,120.7 570.3,113.4 553.5,125.5 628.6,51.8 537.8,156.5 602.0,81.4 640.0,46.8 595.6,92.3 584.3,100.3 616.2,71.6 522.2,157.0 525.2,152.6 527.1,168.5 559.5,114.9 578.5,96.7 563.4,111.7 568.6,113.1 626.1,49.4 643.5,34.0 632.0,54.1 628.0,48.2 519.0,164.1 566.8,119.6 577.8,115.7 614.5,65.4 583.0,93.3 609.7,79.1 642.0,35.5 606.6,81.6 550.1,126.2 661.9,16.2 652.6,34.5 590.4,96.3 634.7,41.0 522.7,156.4 610.9,77.5 609.9,66.1 666.2,19.5 630.6,45.3 514.3,168.3 593.0,85.1 669.0,14.7 533.8,143.8 620.6,55.3 571.1,110.3 579.7,108.8 662.6,20.2 648.9,34.3 569.7,115.0 622.7,61.6 556.5,119.6 603.0,79.5 541.8,133.2 640.9,35.2 534.3,145.0 522.9,150.0 514.5,162.1 648.3,32.7 625.3,48.8 621.0,70.8 662.6,23.4 580.5,123.8 584.5,125.2 592.5,107.8 602.7,96.7 612.6,85.8 526.5,139.0 523.0,146.5 537.0,128.5"/>
<line x1="487.6" y1="204.8" x2="701.1" y2="-17.1" stroke="#141414" stroke-width="0.95"/>
</g>
<rect x="505.4" y="1.4" width="177.9" height="184.9" fill="none" stroke="#333" stroke-width="1"/>
<line x1="515.7" y1="186.3" x2="515.7" y2="189.6" class="tk"/>
<text class="tl" x="515.7" y="201.8" text-anchor="middle">0.0</text>
<line x1="502.1" y1="177.0" x2="505.4" y2="177.0" class="tk"/>
<text class="tl" x="499.4" y="181.6" text-anchor="end">0.0</text>
<line x1="550.2" y1="186.3" x2="550.2" y2="189.6" class="tk"/>
<text class="tl" x="550.2" y="201.8" text-anchor="middle">0.2</text>
<line x1="502.1" y1="140.8" x2="505.4" y2="140.8" class="tk"/>
<text class="tl" x="499.4" y="145.4" text-anchor="end">0.2</text>
<line x1="584.7" y1="186.3" x2="584.7" y2="189.6" class="tk"/>
<text class="tl" x="584.7" y="201.8" text-anchor="middle">0.4</text>
<line x1="502.1" y1="104.6" x2="505.4" y2="104.6" class="tk"/>
<text class="tl" x="499.4" y="109.2" text-anchor="end">0.4</text>
<line x1="619.2" y1="186.3" x2="619.2" y2="189.6" class="tk"/>
<text class="tl" x="619.2" y="201.8" text-anchor="middle">0.6</text>
<line x1="502.1" y1="68.4" x2="505.4" y2="68.4" class="tk"/>
<text class="tl" x="499.4" y="73.0" text-anchor="end">0.6</text>
<line x1="653.7" y1="186.3" x2="653.7" y2="189.6" class="tk"/>
<text class="tl" x="653.7" y="201.8" text-anchor="middle">0.8</text>
<line x1="502.1" y1="32.2" x2="505.4" y2="32.2" class="tk"/>
<text class="tl" x="499.4" y="36.8" text-anchor="end">0.8</text>
<text class="at" x="594.3" y="219.3" text-anchor="middle">PCR-HAT</text>
<text class="at" transform="translate(476.6,94.4) rotate(-90)" text-anchor="middle">BLUP-HAT</text>
<clipPath id="c3"><rect x="40.7" y="233.3" width="177.9" height="185.1"/></clipPath>
<g clip-path="url(#c3)">
<polygon fill="#868686" stroke="#868686" stroke-width="0.6" stroke-linejoin="round" points="47.0,410.4 53.9,409.9 59.9,401.1 69.8,389.2 75.8,382.6 79.7,378.3 89.7,367.4 99.6,356.4 109.5,345.1 119.5,334.5 129.4,323.0 139.9,312.2 149.9,301.5 159.8,291.1 169.7,281.3 179.7,271.3 189.6,261.3 199.5,251.0 209.5,242.2 212.5,241.0 212.5,241.0 209.5,244.9 199.5,256.4 189.6,268.2 179.7,279.7 169.7,292.5 159.8,305.6 149.9,317.1 139.9,328.1 129.4,338.6 119.5,349.5 109.5,361.4 99.6,375.0 89.7,389.9 79.7,401.7 75.8,411.4 69.8,411.4 59.9,411.4 53.9,411.4 47.0,411.4"/>
<polyline class="pts" points="167.5,283.8 90.0,368.5 151.1,301.4 76.7,382.7 210.9,242.3 165.2,287.8 114.4,340.7 122.7,331.4 111.3,345.0 189.2,264.0 150.6,303.2 64.6,396.2 62.6,398.0 178.4,274.1 95.2,363.9 118.3,336.6 147.8,304.8 95.5,363.4 171.5,281.3 163.7,289.0 59.5,403.8 144.0,308.4 200.9,251.1 156.3,295.5 83.7,375.7 91.9,366.8 188.9,263.5 175.8,277.2 90.5,367.1 130.2,323.6 103.2,352.5 182.1,269.6 58.0,404.4 51.7,410.3 84.8,375.2 85.5,372.9 186.1,266.4 194.7,256.8 145.5,307.1 77.3,382.3 87.2,372.7 77.4,383.3 51.2,410.3 120.6,335.6 142.8,309.7 69.4,389.9 50.6,410.3 78.0,380.5 64.4,396.5 60.7,400.8 89.4,369.2 90.3,369.2 65.5,396.3 66.1,395.5 52.6,410.3 125.7,329.7 58.2,405.6 153.4,300.5 196.7,254.3 81.3,377.5 83.3,376.1 169.0,283.1 137.3,316.0 55.9,408.3 201.8,251.2 52.9,410.3 138.7,315.4 80.3,378.3 172.5,280.3 71.3,389.2 135.1,317.8 125.8,328.9 115.8,339.0 124.3,330.5 120.6,335.2 93.1,364.4 123.6,330.5 70.3,389.4 68.9,390.5 141.4,312.2 124.0,331.0 143.4,311.0 134.3,318.4 146.6,306.1 92.2,367.2 209.6,243.5 90.2,368.2 88.5,369.9 93.0,365.2 52.9,410.3 187.4,264.9 207.9,244.0 122.7,331.3 184.4,267.7 178.5,273.0 82.5,376.0 136.3,317.3 57.0,407.9 180.3,273.2 105.1,351.5 184.5,267.3 149.2,303.9 140.5,312.7 92.4,366.6 177.0,276.6 82.3,375.7 69.1,390.4 99.5,358.5 158.5,295.1 166.7,285.1 60.5,402.1 199.3,251.4 80.3,379.7 193.0,259.2 138.6,316.2 209.6,243.5 61.3,399.9 144.2,308.3 126.6,328.0 78.5,380.2 171.0,281.8 124.8,330.5 189.9,262.5 185.6,266.7 85.7,374.4 101.5,356.6 89.5,369.6 170.1,282.7 184.8,266.8 178.9,272.8 147.1,306.5 52.6,410.3 210.8,242.5 194.8,256.8 106.9,350.4 104.8,351.8 65.3,395.5 138.0,316.4 154.3,298.1 167.7,285.4 70.5,389.2 137.8,316.1 163.0,289.1 182.4,269.3 50.0,410.3 127.3,327.5 96.7,361.3 137.5,316.1 136.3,318.0 112.3,342.5 205.7,245.8 151.4,300.7 99.5,358.5 202.8,249.6 103.8,352.6 176.6,276.3 170.7,281.3 69.7,390.3 104.7,352.7 86.1,373.9 204.8,248.3 118.8,336.2 192.9,259.6 148.6,303.7 174.0,277.7 85.3,372.9 109.7,346.9 183.1,269.9 164.0,288.2 200.1,251.4 175.7,276.2 158.0,294.1 158.4,294.8 92.4,365.6 70.5,389.2 144.8,309.2 145.0,307.4 190.5,262.9 88.8,369.5 87.8,371.6 200.0,252.0 126.7,328.1 127.3,327.4 154.4,298.4 48.4,410.3 77.6,382.2 198.1,254.0 68.1,393.4 200.4,251.5 199.6,252.0 57.1,407.2 132.8,320.8 96.7,360.2 157.5,295.2 201.4,250.4 97.8,359.8 70.0,391.3 201.7,251.4 175.0,278.7 107.8,347.4 187.7,265.7 133.9,321.0 64.2,397.1 109.3,346.4 169.6,282.8 98.9,357.6 154.0,299.2 76.0,383.2 176.3,275.4 81.0,378.3 102.5,355.4 174.9,276.4 79.5,380.1 122.1,334.0 181.1,272.2 152.9,298.9 60.2,401.6 63.9,396.6 174.8,278.3 55.9,407.6 72.9,387.5 57.2,407.5 78.9,381.1 149.5,304.2 97.2,360.7 51.2,410.3 155.0,296.8 143.8,310.5 137.2,315.5 146.5,306.3 152.1,300.5 79.1,380.9 49.4,410.3 112.2,344.3 49.7,410.3 116.0,338.6 183.9,268.5 64.9,395.6 160.2,291.9 147.8,305.5 187.2,265.2 133.9,319.4 160.4,291.7 173.4,280.3 148.4,305.3 81.3,377.0 201.2,250.9 125.8,329.2 83.3,377.0 187.3,264.6 151.0,302.6 108.9,347.8 169.4,282.1 124.7,328.7 155.8,295.7 191.8,259.5 50.2,410.3 171.5,279.8 199.1,253.5 183.8,268.8 117.6,337.5 86.6,373.1 106.3,351.3 52.7,410.3 154.6,297.7 68.7,392.0 189.7,263.5 117.5,338.4 171.0,280.7 93.7,363.1 199.4,253.2 157.2,294.8 136.0,317.1 50.3,410.3 208.3,244.4 199.9,252.5 126.4,329.2 112.0,342.8 103.5,352.6 152.4,299.9 168.7,284.9 143.3,309.3 51.8,410.3 75.7,383.0 114.3,341.0 101.0,357.1 154.6,297.6 206.1,247.0 150.6,303.4 142.8,309.6 57.1,406.3 96.2,361.3 180.4,270.8 183.1,268.2 74.1,387.0 162.2,291.4 188.4,263.9 200.6,252.5 123.7,330.4 112.7,342.9 58.6,405.0 94.5,363.0 62.0,400.4 136.1,317.9 83.1,377.2 193.1,259.9 75.7,383.7 56.0,408.7 196.9,255.1 147.6,305.5 147.0,306.2 154.8,297.7 56.1,407.2 58.9,403.2 99.8,356.9 119.5,337.1 130.3,324.6 167.8,285.0 144.7,309.6 127.2,327.7 177.3,275.4 138.3,314.7 77.4,378.2 100.6,353.0 209.3,241.1 51.7,409.0 133.6,316.2 55.0,406.5 93.5,360.4 179.1,270.1 92.9,362.0 157.5,291.5 133.8,316.6 98.0,356.0 74.1,382.5 117.1,334.4 70.4,386.0 134.5,315.1 147.3,299.9 79.5,401.0 118.3,348.4 200.9,252.5 75.2,410.3 191.1,264.5 172.3,287.9 75.0,410.3 49.2,410.3 57.8,409.6 133.1,332.3 88.7,390.7 165.6,295.4 138.6,327.1 110.3,359.4 139.3,326.7 166.5,294.8 164.6,297.2 69.7,409.6 89.2,388.3 80.1,398.8 147.2,319.3 204.5,249.2 124.7,341.3 56.8,410.3 111.6,357.4 95.2,379.5 121.7,344.7 207.9,245.2 206.9,246.4 138.9,327.6 167.6,294.4 50.9,410.3 142.8,323.0 149.2,315.5 186.1,269.7 118.4,348.3 116.4,352.3 188.1,269.1 69.6,410.3 205.4,247.7 163.1,299.7 190.8,265.8 192.1,263.3 112.6,355.5 200.2,253.6 166.4,296.3 150.5,314.7 68.5,410.3 129.7,337.4 139.9,326.4 71.7,409.6 102.4,370.4 126.3,340.1 83.5,396.1 87.9,391.6 113.2,354.4 69.0,409.8 98.3,375.3 113.0,356.6 89.1,388.5 83.7,396.5 116.7,352.3 157.2,306.3 56.7,409.3 101.6,371.0 94.0,382.9 144.2,321.9 62.9,410.3 67.0,410.3 202.8,251.9 137.7,327.8 145.5,319.6 73.6,408.7 49.7,410.3 61.0,410.1 54.2,410.3 107.2,362.1 87.1,392.4 205.9,248.5 53.9,410.3 60.8,410.3 48.3,410.3 127.7,339.2 113.5,354.7 97.6,376.0 206.3,246.8 170.6,289.2 78.6,403.5 62.6,408.7 193.5,262.5 187.9,269.6 59.5,409.0 186.0,269.8 147.7,318.2 176.0,283.7 167.1,295.0 99.9,372.1 188.8,268.7 54.0,410.3 201.8,253.4 55.6,409.6 157.0,306.6 124.7,342.1 152.3,314.1 201.0,254.3 167.2,294.5 129.3,336.6 160.8,303.8 108.0,362.4 70.6,408.8 69.5,410.3 91.4,384.7 196.2,259.7 119.0,349.4 161.1,301.5 102.9,367.8 184.1,272.5 151.5,315.0 88.4,390.8 55.8,409.4 175.2,283.8 76.6,407.3 173.1,286.0 70.5,409.8 180.8,277.6 162.4,301.2 76.9,406.2 121.3,345.0 155.6,309.8 77.0,406.4 79.8,399.4 76.9,408.1 57.9,409.8 205.0,248.2 83.3,396.3 137.8,329.0 76.6,408.3 92.0,384.4 194.0,260.5 78.3,403.5 58.9,410.3 186.0,270.3 131.3,335.5 120.9,345.5 202.2,251.9 106.7,363.6 175.9,282.9 113.6,354.2 118.3,349.0 168.7,292.2 112.8,355.9 51.4,410.3 90.6,386.5 190.7,264.4 100.8,372.2 147.4,318.4 147.3,317.8 179.0,278.2 109.7,359.0 157.7,306.0 107.8,362.1 89.7,389.4 59.2,410.3 182.0,276.5 60.1,409.3 110.1,360.4 153.1,312.6 91.9,384.8 129.9,336.9 184.3,274.1 169.9,289.7 104.2,366.4 196.7,259.5 190.0,266.1 182.0,274.5 83.5,396.7 113.2,355.7 144.8,320.0 87.5,392.0 120.9,347.6 107.6,362.7 140.8,325.7 99.1,374.6 203.7,249.8 129.4,337.7 128.1,338.0 52.3,410.3 85.3,392.4 80.8,400.0 116.4,351.5 58.1,410.3 97.2,376.8 185.7,271.1 129.7,337.5 195.9,259.4 114.3,354.2 143.6,322.3 189.8,265.5 107.7,362.2 124.5,341.6 115.9,352.2 134.4,332.0 92.6,385.0 166.4,295.0 83.1,395.0 58.0,410.3 67.9,409.2 72.9,409.7 129.1,338.5 175.0,285.0 117.1,350.9 74.3,410.3 64.5,410.3 174.0,285.9 112.0,355.8 51.0,410.3 161.1,301.3 182.6,275.6 204.9,249.0 190.4,264.8 52.2,410.3 160.1,302.8 141.9,324.3 110.1,359.1 65.6,409.2 70.9,409.3 175.8,284.2 100.1,372.8 152.0,312.1 142.8,323.9 166.6,296.0 164.4,297.0 110.0,358.9 71.8,409.2 131.4,334.8 89.7,389.3 170.3,289.2 140.1,327.2 143.8,321.5 168.7,292.3 165.6,296.8 125.9,341.7 182.4,274.1 174.3,284.3 177.6,281.8 62.5,408.8 177.0,282.4 139.3,326.1 124.5,342.3 174.4,285.0 192.5,262.7 182.7,273.9 55.6,410.2 192.7,262.1 75.5,409.0 138.2,328.6 199.2,254.7 82.4,396.7 159.1,304.8 102.2,369.8 73.9,410.3 189.2,266.4 178.4,279.4 198.2,257.4 57.5,409.9 80.5,400.0 59.8,410.1 58.9,409.3 128.4,339.4 183.1,273.7 182.6,275.1 48.7,410.3 100.2,373.8 100.2,371.6 205.9,247.8 93.5,383.3 174.0,284.8 75.3,410.3 80.6,398.1 155.3,309.2 141.3,326.2 140.3,326.0 73.9,409.1 185.6,271.3 186.2,271.9 87.5,391.3 142.0,325.2 101.6,372.1 78.7,402.3 203.2,250.2 139.3,328.3 62.8,410.2 119.3,347.8 89.4,389.5 208.7,244.4 94.1,382.7 126.0,342.0 101.6,370.3 65.0,410.3 193.9,261.3 163.6,298.8 199.1,254.5 189.2,268.2 147.0,318.9 143.1,324.3 162.8,299.4 111.3,358.0 167.1,294.1 69.1,409.0 143.9,321.8 163.2,300.5 69.7,410.3 54.4,410.3 115.4,353.4 174.4,284.7 98.7,375.0 74.5,409.5 163.0,299.2 167.4,293.7 93.8,381.3 74.0,410.3 119.3,347.5 76.7,408.4 48.9,410.3 183.9,272.5 134.1,332.0 77.4,407.2 95.8,378.5 99.9,373.6 69.3,410.3 109.7,363.3 71.0,410.3 187.3,272.8 155.2,314.2 65.8,410.3 56.6,410.3 99.6,378.0 111.3,362.1 78.7,409.3 94.1,387.7 56.6,410.3 88.0,395.4 71.0,410.3 175.1,287.5 79.2,407.8 96.7,384.6 57.3,410.3 79.7,407.3 93.2,387.9 140.6,331.1 134.1,336.6 85.8,397.9 166.1,299.5 117.8,356.4 106.7,368.0 111.5,363.0 92.7,388.3 75.6,410.3 125.5,344.9 80.3,406.2 60.9,410.3 152.3,318.4 95.6,383.5 163.6,303.7 98.1,388.7 186.6,267.0 200.4,253.3 158.1,305.1 66.2,396.4 78.8,390.8 182.0,275.3 100.5,358.2 172.8,281.9 62.6,407.2 112.8,355.0 170.6,288.5 159.6,292.7 175.7,279.4 171.8,281.6 152.4,300.7 207.6,245.3 151.6,305.1 94.9,376.5 157.3,301.5 115.7,343.5 104.8,359.6 168.7,286.6 159.3,296.6 56.4,409.6 201.7,250.5 61.1,400.8 166.6,285.4 91.5,372.9 145.4,313.8 144.3,321.9 114.6,353.8 167.8,285.8 195.8,258.6 137.8,315.6 69.1,404.1 139.6,327.2 202.5,250.9 111.5,353.6 117.4,337.9 90.2,373.6 138.6,320.6 72.3,399.4 207.3,245.8 188.5,266.8 54.3,410.3 202.9,249.7 58.8,408.4 48.5,410.3 183.6,268.7 51.4,410.3 158.9,297.9 121.0,337.5 90.3,373.7 106.4,362.0 76.0,399.9 69.4,391.1 112.8,346.0 122.3,338.1 74.8,390.9 50.6,410.3 69.9,399.9 167.0,286.1 198.9,253.9 209.6,243.5 78.6,391.0 123.8,338.8 205.8,247.1 71.1,396.4 195.9,257.5 59.3,409.0 121.5,345.3 102.5,362.9 170.1,288.8 208.7,244.4 129.6,333.5 197.5,255.8 195.6,258.0 176.1,281.1 106.5,363.0 52.9,410.3 172.9,287.2 73.2,400.7 126.6,327.7 155.4,302.4 54.5,410.3 143.4,312.7 201.4,252.3 155.0,307.8 204.1,249.3 177.6,278.2 103.0,368.4 120.2,335.8 147.2,310.1 119.1,348.9 196.0,259.3 200.4,251.3 87.6,380.1 54.2,410.3 159.7,293.6 160.4,292.8 186.7,265.9 110.6,346.2 191.0,261.6 108.0,351.6 174.8,283.6 168.6,284.9 175.3,282.0 146.4,317.0 142.7,323.3 186.9,266.2 120.2,342.8 112.0,344.4 75.3,386.9 64.7,407.5 173.3,285.6 156.9,307.4 74.5,409.5 96.4,366.6 154.0,305.1 102.3,370.1 121.5,342.4 122.7,334.8 117.6,340.2 81.6,387.5 104.5,357.8 174.4,284.4 172.9,284.1 197.0,256.7 163.5,291.5 196.2,257.7 198.5,254.8 201.3,251.7 130.0,328.5 183.7,271.5 156.0,302.3 115.5,340.1 99.6,360.1 122.2,333.3 159.3,298.2 174.2,285.3 95.2,379.3 78.9,389.4 114.1,354.5 109.3,349.5 109.9,351.2 192.1,263.8 190.2,264.1 53.3,410.3 105.9,359.6 92.2,369.1 199.7,253.7 141.4,315.2 67.1,396.0 57.4,408.4 127.2,336.4 145.6,317.4 61.0,402.8 155.9,300.5 52.3,410.3 178.9,277.7 54.6,410.3 169.8,288.2 173.4,284.4 84.9,377.6 82.7,385.1 131.0,327.9 57.0,409.4 118.3,337.1 167.3,290.5 191.3,262.9 114.5,350.3 72.3,403.9 68.8,394.1 82.7,384.9 86.5,388.5 208.2,244.7 210.2,243.1 128.7,337.6 195.0,257.6 202.8,250.5 79.7,381.6 83.0,392.8 181.8,271.9 89.4,369.4 97.1,369.7 120.3,337.5 101.7,362.3 90.6,386.6 54.5,410.3 148.4,305.9 150.4,308.1 120.6,337.2 124.9,340.9 106.6,350.7 196.2,258.8 75.0,385.6 68.9,395.7 203.5,248.5 92.5,367.5 100.1,362.9 110.8,349.7 168.7,284.7 169.1,284.8 194.3,259.0 80.5,379.2 181.4,276.2 52.8,410.3 204.3,247.9 180.4,273.6 193.6,259.3 109.0,356.4 89.9,383.5 94.1,364.7 94.3,375.7 170.6,281.5 126.5,328.8 194.2,259.6 99.0,360.3 54.1,410.3 185.3,270.6 143.0,320.4 191.3,261.1 79.1,391.7 107.1,349.1 170.8,288.9 131.5,329.7 160.7,296.8 185.1,268.6 79.8,392.5 63.5,398.9 186.9,269.0 118.6,348.7 173.9,284.3 66.2,407.4 91.9,384.0 210.7,243.0 105.9,350.6 196.5,255.8 149.1,309.2 150.0,306.7 56.8,407.6 58.8,408.3 167.3,287.3 169.3,286.9 49.0,410.3 50.1,410.3 51.2,410.3 52.4,410.3 53.5,410.3 54.6,410.3 55.7,410.3 56.8,410.3 57.9,410.3 59.0,410.3 60.1,410.3 61.2,410.3 62.3,410.3 63.4,410.3 64.5,410.3 65.6,410.3 66.7,410.3 67.8,410.3 68.9,410.3 70.0,410.3 71.1,410.3 72.2,410.3 73.3,410.3 74.4,410.3 75.5,410.3"/>
<line x1="29.2" y1="436.9" x2="235.8" y2="214.8" stroke="#141414" stroke-width="0.95"/>
</g>
<rect x="40.7" y="233.3" width="177.9" height="185.1" fill="none" stroke="#333" stroke-width="1"/>
<line x1="55.4" y1="418.4" x2="55.4" y2="421.7" class="tk"/>
<text class="tl" x="55.4" y="433.9" text-anchor="middle">0.0</text>
<line x1="37.4" y1="408.7" x2="40.7" y2="408.7" class="tk"/>
<text class="tl" x="34.7" y="413.3" text-anchor="end">0.0</text>
<line x1="89.0" y1="418.4" x2="89.0" y2="421.7" class="tk"/>
<text class="tl" x="89.0" y="433.9" text-anchor="middle">0.2</text>
<line x1="37.4" y1="372.4" x2="40.7" y2="372.4" class="tk"/>
<text class="tl" x="34.7" y="377.0" text-anchor="end">0.2</text>
<line x1="122.7" y1="418.4" x2="122.7" y2="421.7" class="tk"/>
<text class="tl" x="122.7" y="433.9" text-anchor="middle">0.4</text>
<line x1="37.4" y1="336.1" x2="40.7" y2="336.1" class="tk"/>
<text class="tl" x="34.7" y="340.7" text-anchor="end">0.4</text>
<line x1="156.3" y1="418.4" x2="156.3" y2="421.7" class="tk"/>
<text class="tl" x="156.3" y="433.9" text-anchor="middle">0.6</text>
<line x1="37.4" y1="299.8" x2="40.7" y2="299.8" class="tk"/>
<text class="tl" x="34.7" y="304.4" text-anchor="end">0.6</text>
<line x1="190.0" y1="418.4" x2="190.0" y2="421.7" class="tk"/>
<text class="tl" x="190.0" y="433.9" text-anchor="middle">0.8</text>
<line x1="37.4" y1="263.5" x2="40.7" y2="263.5" class="tk"/>
<text class="tl" x="34.7" y="268.1" text-anchor="end">0.8</text>
<text class="at" x="129.7" y="451.4" text-anchor="middle">PCR-CV</text>
<text class="at" transform="translate(11.9,326.4) rotate(-90)" text-anchor="middle">PLS-CV</text>
<clipPath id="c4"><rect x="272.9" y="233.3" width="177.3" height="185.1"/></clipPath>
<g clip-path="url(#c4)">
<polygon fill="#868686" stroke="#868686" stroke-width="0.6" stroke-linejoin="round" points="279.0,398.9 281.9,390.0 291.9,380.1 301.8,369.4 306.8,365.7 311.7,362.6 321.7,353.2 331.6,344.1 341.5,334.4 351.5,323.7 361.4,314.0 369.9,306.0 379.9,295.6 389.8,286.3 399.7,276.6 409.7,266.6 419.6,257.9 429.5,248.8 439.5,241.4 444.5,240.8 444.5,240.8 439.5,248.3 429.5,260.0 419.6,270.3 409.7,282.9 399.7,296.0 389.8,307.5 379.9,317.4 369.9,328.4 361.4,337.3 351.5,348.5 341.5,358.2 331.6,370.4 321.7,382.5 311.7,395.1 306.8,401.7 301.8,407.3 291.9,410.4 281.9,409.4 279.0,407.5"/>
<polyline class="pts" points="396.2,280.7 408.7,269.1 437.7,244.5 291.3,381.6 328.7,349.0 421.8,257.5 307.5,365.8 410.6,267.7 332.1,344.7 426.8,253.1 354.9,322.5 427.2,251.2 395.7,281.7 289.7,383.6 334.0,342.5 327.2,348.9 362.2,314.2 366.4,309.9 323.7,351.8 375.0,301.7 300.3,372.0 427.2,252.7 398.3,279.7 324.1,352.1 304.9,368.9 390.8,286.1 357.3,319.3 409.6,267.8 432.7,246.8 296.5,376.2 316.7,360.2 358.0,319.2 335.8,340.7 345.7,331.9 385.8,292.7 282.7,390.0 430.8,249.5 294.3,379.4 393.2,283.2 338.2,338.9 317.0,359.9 407.0,271.7 425.0,253.4 334.1,342.6 333.4,343.0 309.0,366.0 334.9,341.5 358.9,318.7 356.7,320.4 303.8,368.6 304.3,369.7 377.5,298.6 303.6,370.3 424.8,253.9 418.1,260.7 368.1,308.0 309.7,364.9 389.0,287.8 364.6,313.6 350.7,326.6 398.5,280.0 323.8,353.4 376.8,299.2 423.9,255.6 323.0,353.0 281.4,392.7 377.4,298.7 320.1,356.8 291.5,381.5 333.0,343.5 352.0,323.4 328.3,349.2 355.7,322.0 428.8,249.9 339.5,337.2 319.2,357.1 295.5,378.2 284.2,389.2 420.6,259.0 401.3,277.1 316.8,359.1 341.2,336.7 437.3,245.1 335.5,340.8 302.7,370.2 382.9,293.7 441.2,242.1 346.8,331.2 415.1,264.4 400.1,276.7 382.6,295.4 315.2,361.4 298.1,374.5 395.6,281.7 389.3,287.9 431.0,250.1 308.6,365.8 316.6,359.5 433.9,247.3 339.8,336.6 394.5,281.9 427.0,253.1 368.2,308.8 414.9,264.4 437.8,243.1 393.5,283.5 327.5,349.0 351.6,326.0 335.7,340.9 309.9,365.1 366.2,311.3 420.5,259.7 373.5,303.4 411.5,267.7 359.5,318.0 294.3,379.8 301.3,371.3 291.1,383.0 402.8,273.8 346.6,330.8 333.3,343.6 432.1,247.6 371.2,307.2 361.3,314.3 291.8,381.4 413.3,264.9 298.1,376.1 387.5,290.3 334.4,341.9 345.8,331.4 400.7,277.7 413.0,265.7 295.0,378.3 389.2,287.7 369.6,307.6 370.0,308.3 322.3,353.0 400.0,277.8 429.6,249.6 371.1,305.5 288.8,383.9 434.8,245.6 401.0,277.7 306.7,368.5 345.9,331.9 401.3,277.6 382.5,293.8 334.8,343.6 356.8,319.3 429.6,249.5 392.3,284.8 389.3,288.0 350.1,327.6 284.2,390.0 317.0,358.2 364.7,313.0 308.4,366.5 379.1,299.1 438.9,243.7 381.7,295.2 374.0,303.2 380.9,297.2 351.1,324.4 333.3,345.1 392.9,284.7 351.8,323.9 296.9,377.2 306.7,368.0 345.7,330.8 407.0,270.7 286.7,386.2 388.6,288.4 419.9,259.6 297.8,376.0 410.6,266.5 389.0,287.7 403.8,273.2 285.5,388.7 338.1,338.3 399.9,277.7 313.4,361.5 366.7,310.1 382.8,293.3 353.1,322.8 365.3,312.6 281.5,393.2 296.4,377.0 347.0,329.7 329.7,346.9 360.4,315.3 386.2,290.8 407.7,270.9 321.6,354.2 409.8,267.3 439.1,241.9 302.3,371.1 412.9,264.4 311.4,363.4 280.4,395.0 355.3,321.7 438.9,242.5 424.3,255.5 347.9,329.2 305.4,369.3 344.2,332.6 403.9,273.9 294.5,379.8 355.2,321.8 304.8,369.2 389.4,287.2 374.9,303.3 409.5,268.1 321.2,355.6 359.5,318.0 283.0,389.9 392.9,285.9 346.2,330.7 310.4,365.6 333.3,343.9 430.4,249.6 307.4,366.9 368.4,308.5 311.9,363.7 436.7,243.8 297.2,376.5 282.4,391.9 298.8,375.2 439.1,241.9 337.6,340.1 414.8,262.5 297.5,375.9 322.5,355.0 416.6,262.0 351.0,324.7 299.3,373.8 403.2,275.4 411.1,267.1 398.6,279.3 328.0,348.9 423.0,255.5 289.6,383.7 400.5,277.7 384.0,292.0 357.3,318.5 354.6,323.0 387.1,289.7 415.2,263.0 389.0,287.5 437.8,243.2 422.3,257.1 413.9,264.4 436.0,245.2 295.0,378.5 403.9,272.9 369.6,307.9 435.8,244.6 327.1,349.0 394.2,283.1 377.4,299.1 339.7,337.3 408.3,269.4 416.5,262.5 401.2,275.6 389.1,288.6 293.9,379.0 356.6,319.5 393.4,283.2 403.9,273.7 428.8,249.7 343.9,332.9 421.2,259.1 358.2,318.4 302.4,370.3 288.1,386.3 387.0,290.5 305.0,368.9 352.6,323.7 349.3,326.5 342.0,334.6 349.5,326.2 378.0,299.2 401.5,275.2 423.8,255.4 362.6,313.7 434.9,245.0 285.1,388.7 295.6,376.3 282.2,391.3 321.2,355.0 363.9,314.0 439.6,242.6 327.9,348.1 296.5,376.3 310.9,364.5 293.5,378.8 310.2,364.3 316.2,359.0 315.4,359.9 354.4,323.0 285.7,387.3 314.0,362.4 393.9,284.9 403.4,275.3 417.7,260.0 416.1,262.4 321.6,355.2 420.6,257.9 330.0,345.8 391.0,286.1 350.3,326.7 368.8,307.5 418.1,260.8 305.2,369.1 429.1,250.9 378.7,299.1 298.0,375.6 359.6,318.1 437.1,244.4 299.0,374.3 282.6,391.9 287.5,386.4 410.3,268.8 322.8,354.8 347.6,329.0 363.9,312.2 334.3,342.4 297.3,371.3 294.8,373.9 349.2,322.2 433.2,244.1 385.6,288.3 326.5,346.3 304.1,364.8 429.4,247.1 424.8,250.8 326.3,345.6 434.0,243.7 325.3,347.2 310.5,361.4 286.5,383.0 317.4,354.1 353.8,319.1 285.0,384.0 342.8,331.0 428.4,247.7 426.5,249.7 416.7,258.7 353.2,319.9 403.7,270.1 384.3,288.3 307.5,362.2 396.3,277.2 350.9,321.0 427.3,248.8 358.7,312.6 296.1,373.6 354.6,318.9 319.2,352.6 345.0,328.5 389.2,284.2 401.1,272.5 352.6,318.3 304.1,359.0 352.5,347.1 309.0,396.8 377.0,319.2 302.2,406.0 381.0,314.6 281.3,407.5 417.0,271.9 325.3,375.6 408.6,282.1 385.5,311.4 334.7,364.5 318.6,385.3 426.2,261.7 303.4,404.3 388.4,306.3 302.4,404.5 385.1,310.3 364.7,333.0 355.1,343.9 300.6,406.1 430.0,258.2 287.6,407.3 283.9,408.4 424.2,264.8 340.5,356.9 359.8,337.6 295.4,407.1 390.4,305.9 290.1,408.7 351.6,346.3 314.4,389.1 438.1,249.6 435.5,251.4 372.0,324.0 350.3,348.8 429.0,259.8 370.3,327.3 284.3,408.7 320.5,382.0 393.6,302.3 412.3,277.3 415.5,274.9 436.8,250.2 313.9,389.8 427.4,260.1 346.6,350.8 362.9,335.3 287.7,409.0 357.8,340.6 370.9,325.0 386.8,310.2 357.3,341.0 303.6,403.1 427.0,261.5 306.7,400.9 439.8,246.9 328.5,373.1 406.6,285.1 323.2,379.6 405.0,287.9 349.4,348.3 297.5,407.3 369.3,326.6 292.3,409.3 405.8,287.4 310.5,394.5 426.1,262.5 321.2,382.1 295.4,408.8 391.2,303.5 324.6,376.3 375.7,320.5 431.2,257.7 351.0,348.5 440.5,244.2 385.8,310.2 387.4,308.4 283.7,408.1 425.0,262.9 424.9,263.4 287.3,407.4 388.4,306.9 295.1,408.5 428.9,258.5 404.1,289.2 281.6,409.0 413.3,276.8 374.3,322.0 384.0,310.6 304.6,404.0 439.1,247.7 372.0,324.1 405.4,287.7 356.9,341.8 372.2,324.7 349.2,348.2 333.9,364.9 385.9,309.8 282.8,407.4 441.2,244.2 398.0,296.4 389.8,304.9 305.6,400.7 426.5,261.1 308.2,399.2 440.6,246.0 280.8,406.7 391.2,305.3 323.6,379.3 390.3,305.6 421.8,267.1 367.0,330.1 398.7,295.2 317.2,386.0 415.6,273.6 291.0,408.8 361.3,336.9 309.2,398.2 309.0,398.5 295.4,408.3 323.9,378.2 306.4,401.3 297.0,406.8 417.2,272.2 358.4,338.9 423.8,263.8 406.5,285.4 311.5,394.8 405.0,286.8 415.6,274.3 295.7,406.6 437.1,249.3 295.4,406.7 404.8,287.4 411.8,278.9 380.2,316.2 384.3,310.9 388.9,307.2 423.8,264.9 356.2,341.4 326.3,376.6 334.1,365.8 295.3,407.6 290.9,408.1 320.0,383.5 360.6,336.2 434.8,252.7 384.5,312.6 408.6,282.7 401.2,292.9 365.5,331.5 338.1,361.4 303.2,403.7 308.0,399.4 349.1,348.8 388.2,307.6 376.8,320.0 292.6,409.5 427.7,261.7 336.5,363.7 317.2,385.8 291.0,407.7 421.6,267.7 352.4,346.6 318.0,385.8 328.2,373.0 412.2,277.7 415.4,274.3 431.0,258.0 341.5,356.6 350.5,349.0 297.5,407.7 326.7,375.4 428.3,259.3 421.4,266.8 412.0,277.9 420.8,266.8 363.4,333.7 332.7,368.1 285.0,408.2 403.7,288.2 391.7,303.1 411.9,279.7 381.6,313.4 434.6,253.0 426.9,260.3 314.8,389.2 435.6,252.4 392.5,302.6 362.6,334.2 424.7,264.1 410.1,280.6 382.4,314.7 375.8,320.5 385.8,309.7 376.7,320.5 289.1,407.9 354.4,343.0 408.3,282.3 310.6,395.7 418.6,271.2 315.9,389.3 288.1,409.6 337.0,362.9 296.3,407.8 292.0,409.3 433.1,253.3 382.2,313.0 417.0,273.2 292.1,410.1 387.7,308.1 288.4,407.9 284.7,409.2 286.6,407.8 320.0,383.6 410.9,279.3 326.2,376.7 393.7,302.1 320.4,382.1 314.8,390.8 318.3,384.2 331.1,370.5 404.6,289.2 414.7,275.3 315.4,388.0 413.2,277.3 310.7,396.0 433.7,254.6 306.6,400.3 422.0,267.4 432.3,254.5 311.4,393.3 360.4,336.2 388.1,308.1 352.7,346.0 440.9,243.9 280.4,406.4 350.0,348.8 431.7,255.4 341.2,356.1 398.6,295.0 361.2,335.7 294.3,408.5 352.9,345.0 301.0,407.0 359.1,337.4 306.5,400.2 401.8,292.5 362.9,335.3 390.5,306.0 396.2,297.5 346.4,351.3 282.3,407.0 401.8,292.2 335.8,364.4 358.3,340.1 375.3,321.4 439.9,247.4 409.4,281.7 420.4,268.3 363.3,333.0 376.0,320.5 333.1,367.0 350.4,348.7 404.6,287.6 358.1,340.0 419.1,269.6 375.6,320.0 408.1,282.9 381.6,313.5 383.2,312.5 353.1,346.1 405.6,287.9 311.3,393.4 422.1,265.0 309.8,395.9 349.4,349.7 373.7,323.5 320.8,382.8 433.5,252.9 282.2,408.3 327.3,373.6 376.7,318.4 347.8,349.6 365.0,331.1 440.8,245.2 324.3,378.4 322.0,380.1 327.8,374.6 318.0,386.2 348.3,350.6 349.1,348.6 399.0,294.2 395.2,299.2 328.3,372.6 442.3,243.1 321.8,381.2 414.1,275.7 359.3,339.0 427.8,259.7 319.7,383.6 339.0,358.9 327.0,373.4 411.3,280.2 423.7,264.3 310.6,394.6 376.3,320.7 284.6,408.4 406.1,285.8 320.9,383.0 294.1,409.3 398.0,296.7 317.1,386.1 414.9,275.7 285.7,409.0 339.4,359.3 307.9,398.1 369.0,327.9 372.8,323.3 405.3,287.8 432.2,255.4 336.8,362.8 379.3,321.6 368.1,333.9 303.7,407.3 340.1,362.5 336.4,367.2 416.3,276.6 438.6,251.3 336.9,366.0 293.8,411.6 319.2,389.5 414.3,279.4 323.2,382.9 326.9,378.6 391.5,309.1 322.9,385.1 352.2,349.6 321.5,386.6 335.1,368.3 312.7,397.2 436.6,253.7 317.2,390.9 343.2,359.5 344.5,359.3 382.8,316.6 367.1,333.3 325.0,380.5 370.4,329.8 374.6,325.5 313.6,396.3 354.9,347.9 365.2,335.3 409.5,286.6 334.9,368.2 321.1,385.6 394.4,316.3 364.1,324.0 331.0,366.4 409.8,280.2 325.0,352.1 347.6,350.1 428.3,253.2 425.7,254.3 399.3,279.8 325.5,360.3 441.3,243.8 347.8,338.4 395.2,287.7 398.5,282.5 322.1,375.2 337.0,349.6 342.4,346.3 398.7,280.5 438.4,244.3 358.3,320.5 281.5,406.0 364.8,327.6 286.0,405.1 387.5,308.6 427.7,258.4 373.5,319.7 374.5,319.2 417.6,269.3 374.6,321.1 308.2,394.7 432.4,250.9 314.0,390.9 404.4,287.5 299.2,390.1 374.8,316.8 309.7,392.4 360.4,335.1 358.7,326.3 401.1,278.6 311.0,385.0 412.4,273.2 334.3,355.7 416.4,269.7 406.2,280.2 288.1,399.4 435.1,250.1 415.7,272.6 342.6,334.9 347.3,330.6 420.1,261.3 308.0,376.9 286.3,390.1 406.0,276.3 438.6,245.1 316.6,377.3 298.1,389.5 413.3,273.5 292.8,388.2 295.8,385.3 325.0,354.6 412.2,269.9 380.3,315.6 420.4,261.5 374.1,317.2 318.0,371.1 381.3,310.6 357.8,324.6 299.3,387.4 425.2,253.9 420.0,265.0 386.2,293.2 371.8,314.5 342.4,336.9 356.3,336.0 302.3,397.8 425.9,261.7 410.6,278.0 323.6,352.8 393.1,298.2 288.7,391.4 352.5,329.6 400.0,280.7 422.0,260.1 413.7,267.4 344.7,333.9 423.3,262.1 339.7,351.9 345.2,348.4 287.0,394.8 307.5,378.9 366.2,327.9 368.2,327.7 418.9,260.8 405.9,283.1 309.7,391.9 441.8,243.0 289.5,402.7 354.5,339.0 370.1,326.1 368.1,326.6 298.2,402.6 311.0,385.8 289.5,392.4 291.2,384.8 381.1,304.3 336.6,345.5 322.1,361.7 285.2,393.9 440.7,242.3 416.1,266.0 317.0,381.0 288.4,395.3 283.6,403.1 312.3,384.2 348.3,344.6 408.4,269.5 373.1,313.7 404.8,285.2 293.8,399.9 341.1,351.6 367.6,329.4 442.3,242.2 411.5,272.6 436.8,246.9 387.5,293.3 370.0,311.3 396.0,284.2 390.9,292.0 304.8,369.5 371.3,319.8 351.2,346.3 304.2,385.0 367.3,313.8 436.7,246.9 314.4,371.1 374.1,308.3 395.3,298.1 358.8,337.0 395.4,299.1 388.5,293.4 390.8,301.8 325.7,368.2 412.7,277.6 334.0,347.9 426.3,255.0 280.8,398.9 396.9,280.9 418.2,269.3 440.9,244.0 338.6,344.1 419.9,264.0 400.3,282.8 403.0,284.2 433.0,252.1 381.1,300.8 376.8,310.8 418.2,264.9 403.5,282.4 288.4,389.6 435.3,250.7 304.2,395.9 432.0,250.5 352.3,329.7 327.4,352.1 439.1,246.3 397.7,293.6 383.8,302.3 350.1,334.5 427.2,253.1 387.2,296.0 357.8,330.5 377.8,316.6 292.1,408.3 340.0,349.0 406.6,278.3 287.4,396.4 388.0,290.0 309.4,376.7 391.2,294.8 439.5,243.4 348.4,336.8 423.8,258.2 431.2,248.8 304.3,403.1 306.0,385.6 290.2,398.1 424.2,259.7 314.9,387.4 366.0,323.4 324.1,362.4 437.3,245.7 284.8,392.3 419.0,266.1 357.4,338.6 406.4,283.6 364.6,313.6 323.6,378.1 412.1,274.3 317.9,365.9 291.2,392.4 326.2,366.8 339.9,352.7 289.0,388.8 343.4,338.2 280.5,403.8 437.2,245.5 330.0,355.9 356.2,328.9 411.3,277.4 420.4,263.5 288.2,397.6 339.9,344.0 426.2,258.5 407.9,279.6 430.6,252.9 284.8,398.7 296.8,389.6 423.1,257.9 413.1,277.2 335.6,358.5 281.9,405.6 333.4,357.5 379.1,303.2 312.0,363.9 323.5,378.1 365.5,331.4 288.9,389.8 385.5,303.0 422.1,258.5 410.4,273.1 412.3,271.9 340.3,348.6 435.9,247.1 334.2,362.2 350.7,347.5 362.7,328.3 384.4,302.1 340.4,341.7 424.2,262.1 439.8,244.7 329.3,362.5 441.0,242.5 439.5,244.8 357.9,333.8 367.5,323.9 423.1,257.0 357.0,357.3 284.9,382.6 288.9,381.6 297.5,369.5 324.0,345.0 329.5,342.5"/>
<line x1="261.1" y1="436.9" x2="467.4" y2="214.8" stroke="#141414" stroke-width="0.95"/>
</g>
<rect x="272.9" y="233.3" width="177.3" height="185.1" fill="none" stroke="#333" stroke-width="1"/>
<line x1="287.4" y1="418.4" x2="287.4" y2="421.7" class="tk"/>
<text class="tl" x="287.4" y="433.9" text-anchor="middle">0.0</text>
<line x1="269.6" y1="409.0" x2="272.9" y2="409.0" class="tk"/>
<text class="tl" x="266.9" y="413.6" text-anchor="end">0.0</text>
<line x1="321.0" y1="418.4" x2="321.0" y2="421.7" class="tk"/>
<text class="tl" x="321.0" y="433.9" text-anchor="middle">0.2</text>
<line x1="269.6" y1="372.7" x2="272.9" y2="372.7" class="tk"/>
<text class="tl" x="266.9" y="377.3" text-anchor="end">0.2</text>
<line x1="354.7" y1="418.4" x2="354.7" y2="421.7" class="tk"/>
<text class="tl" x="354.7" y="433.9" text-anchor="middle">0.4</text>
<line x1="269.6" y1="336.4" x2="272.9" y2="336.4" class="tk"/>
<text class="tl" x="266.9" y="341.0" text-anchor="end">0.4</text>
<line x1="388.3" y1="418.4" x2="388.3" y2="421.7" class="tk"/>
<text class="tl" x="388.3" y="433.9" text-anchor="middle">0.6</text>
<line x1="269.6" y1="300.1" x2="272.9" y2="300.1" class="tk"/>
<text class="tl" x="266.9" y="304.7" text-anchor="end">0.6</text>
<line x1="422.0" y1="418.4" x2="422.0" y2="421.7" class="tk"/>
<text class="tl" x="422.0" y="433.9" text-anchor="middle">0.8</text>
<line x1="269.6" y1="263.8" x2="272.9" y2="263.8" class="tk"/>
<text class="tl" x="266.9" y="268.4" text-anchor="end">0.8</text>
<text class="at" x="361.5" y="451.4" text-anchor="middle">PCR-CV</text>
<text class="at" transform="translate(244.1,326.4) rotate(-90)" text-anchor="middle">BLUP-HAT</text>
<clipPath id="c5"><rect x="505.4" y="233.3" width="177.9" height="185.1"/></clipPath>
<g clip-path="url(#c5)">
<polygon fill="#868686" stroke="#868686" stroke-width="0.6" stroke-linejoin="round" points="511.0,382.9 514.9,380.6 524.9,373.9 534.8,364.7 544.7,356.7 554.7,346.5 564.6,337.9 574.5,329.8 584.5,321.2 594.4,310.6 603.9,301.1 613.9,292.2 623.8,283.2 633.7,274.3 643.7,264.8 653.6,257.0 663.5,249.1 673.5,241.3 677.0,240.5 677.0,241.7 673.5,247.2 663.5,257.4 653.6,267.7 643.7,277.5 633.7,288.4 623.8,299.1 613.9,308.9 603.9,319.2 594.4,329.0 584.5,339.4 574.5,350.7 564.6,360.6 554.7,371.5 544.7,381.9 534.8,392.8 524.9,401.7 514.9,411.7 511.0,412.7"/>
<polyline class="pts" points="548.6,354.0 598.3,308.0 632.9,277.3 608.9,298.1 597.3,310.1 674.3,241.8 548.0,353.8 627.0,281.3 539.5,361.3 544.6,358.0 664.2,249.5 656.0,257.5 519.7,379.1 545.4,357.3 541.3,361.7 525.9,374.4 666.0,249.6 612.8,294.8 563.8,340.1 610.7,297.1 672.1,243.9 637.0,271.7 639.3,269.9 518.9,378.5 616.3,290.9 571.8,334.6 528.9,371.0 630.9,277.4 555.9,347.0 559.0,343.9 577.3,330.1 533.0,368.5 665.6,249.9 515.3,381.1 627.1,281.0 628.3,280.3 626.1,283.0 622.1,285.4 595.0,312.0 566.0,338.3 657.0,255.8 596.1,311.0 547.4,354.8 587.5,320.1 587.5,318.4 531.0,370.7 610.8,297.4 666.3,249.1 629.0,279.4 623.9,284.6 530.2,371.5 631.6,278.0 652.2,260.8 619.8,287.4 596.2,309.3 622.0,285.1 547.6,355.5 533.3,368.3 528.3,371.6 523.0,377.4 653.0,258.7 654.4,258.0 584.1,322.2 568.3,335.2 562.4,341.4 541.2,360.5 618.1,291.0 570.6,335.2 522.9,377.8 562.3,340.7 633.8,276.3 556.6,347.5 637.6,271.3 558.5,344.3 599.8,306.9 590.8,316.7 564.7,338.2 653.3,258.5 656.7,255.2 605.4,301.0 533.6,366.2 581.9,325.9 513.0,383.0 602.0,305.7 568.4,336.9 664.8,250.7 566.3,337.3 516.1,380.5 640.5,269.3 661.0,252.0 596.9,310.1 625.2,282.3 665.4,248.2 610.2,298.0 550.1,352.0 613.1,295.2 656.8,256.8 523.3,377.0 603.0,304.6 627.1,281.9 524.3,374.5 607.0,299.3 530.4,369.9 523.4,375.8 651.0,260.5 649.3,262.7 519.0,379.3 589.3,318.5 514.5,381.1 586.3,319.5 547.2,355.5 567.5,337.0 585.4,321.1 652.4,258.9 574.8,332.0 653.3,259.7 572.1,332.3 561.6,343.2 613.9,293.8 513.0,383.4 533.0,366.8 526.7,372.7 615.2,291.4 613.4,293.6 543.9,358.6 574.0,331.6 580.4,327.4 549.7,353.9 581.7,324.0 639.4,270.2 549.4,354.0 607.0,300.2 669.4,245.3 648.7,262.3 565.3,338.3 592.6,314.1 531.1,370.6 649.6,261.2 585.1,321.0 675.5,242.0 663.9,250.1 555.0,348.7 645.3,265.5 614.1,292.4 566.8,338.8 551.7,351.5 513.0,384.4 513.0,383.6 620.8,286.6 584.2,323.2 572.6,331.8 547.0,356.9 651.2,259.3 549.9,352.7 602.5,303.3 545.1,358.4 566.8,338.3 637.8,272.0 655.7,256.1 546.0,357.8 541.8,361.3 621.4,285.6 650.0,260.2 531.5,369.5 627.0,282.6 518.8,379.8 534.6,365.7 672.2,243.6 522.1,377.8 579.9,325.6 563.3,339.9 609.8,297.0 600.5,307.0 615.9,291.2 606.8,300.2 548.6,353.5 581.5,324.6 535.1,365.0 530.6,370.2 524.7,376.5 673.0,244.2 635.6,273.5 540.3,362.8 591.6,314.6 513.0,384.7 621.5,286.1 559.6,343.1 655.3,256.1 620.3,287.5 662.7,250.7 658.8,255.5 601.9,305.7 530.1,370.1 585.6,321.3 531.4,370.1 525.2,374.3 631.7,277.0 673.3,242.1 674.6,243.3 652.4,258.6 621.1,286.1 656.1,255.4 646.7,265.0 647.0,264.8 629.7,280.5 605.9,300.8 577.4,329.8 542.4,359.1 615.6,292.1 588.0,317.8 673.6,242.0 660.3,252.0 673.4,242.2 536.9,363.6 642.9,268.2 521.9,378.0 527.6,372.0 537.7,363.6 625.4,282.7 627.9,280.0 584.6,322.0 557.8,345.1 533.5,368.0 525.4,375.4 575.1,330.6 537.9,362.4 548.2,355.8 545.5,357.8 638.4,272.1 518.4,380.2 529.3,371.2 542.7,360.3 592.6,314.6 545.6,357.8 649.4,262.7 573.6,332.8 632.6,275.5 561.2,342.6 532.4,367.2 553.8,348.4 534.5,367.3 632.7,277.1 674.8,241.9 524.3,376.1 565.3,338.8 557.3,345.9 530.1,370.1 551.4,350.4 653.9,257.3 658.1,253.8 588.7,319.4 596.8,309.3 672.6,243.1 616.8,291.3 575.9,329.3 627.7,281.4 582.3,324.0 602.4,303.7 672.4,244.3 557.7,345.7 608.0,298.1 663.6,249.4 623.1,286.5 672.3,243.2 580.0,327.4 536.6,363.5 548.3,354.9 620.9,287.6 589.6,317.0 668.1,248.0 561.6,342.0 597.7,309.7 581.8,324.4 525.7,373.7 625.6,284.3 637.0,273.2 627.7,280.0 613.9,293.3 637.6,273.3 596.5,309.0 602.1,304.0 535.0,366.4 513.2,383.8 622.5,286.6 562.0,342.2 524.3,376.7 568.6,335.3 619.0,288.3 659.7,252.6 636.1,273.0 645.4,264.2 559.8,344.2 546.0,356.5 513.0,381.9 670.2,246.4 673.8,243.4 570.1,334.1 568.6,334.9 623.5,285.7 653.5,257.5 514.0,381.3 603.1,304.5 653.2,259.3 585.4,321.7 656.3,255.2 600.7,305.7 580.2,325.8 612.3,295.1 653.2,257.5 596.6,310.1 578.3,328.3 543.2,359.6 626.0,282.9 578.2,328.3 563.2,341.4 548.7,355.0 548.1,354.2 568.8,337.1 633.4,276.4 643.7,265.0 538.0,363.4 641.5,268.7 623.1,286.0 562.2,341.0 561.8,341.5 669.0,245.4 600.8,305.0 655.9,257.4 591.1,315.1 519.0,379.9 579.2,328.3 515.7,378.1 633.2,272.7 665.1,246.1 641.3,264.8 626.5,278.7 578.5,324.6 514.2,378.4 517.8,376.8 592.9,309.2 554.7,344.0 573.5,328.7 616.6,287.1 590.9,311.3 594.5,307.6 523.9,372.7 571.0,329.9 634.3,271.4 526.9,370.2 598.7,303.8 513.1,379.6 638.5,267.8 546.3,352.1 574.5,327.2 639.6,266.8 595.9,306.1 607.2,295.9 570.8,330.7 550.2,346.6 671.2,248.0 670.4,248.8 612.0,309.1 659.6,261.1 559.0,365.1 656.1,263.4 634.8,285.0 642.7,277.4 627.1,293.5 513.0,411.0 633.0,288.6 576.1,347.7 613.6,306.6 550.9,373.9 659.6,259.7 666.3,254.3 631.4,288.5 663.5,255.8 615.8,306.0 579.0,343.3 661.5,257.6 656.4,264.6 541.3,384.5 604.8,316.5 519.8,406.0 513.0,410.4 531.5,395.3 652.9,266.4 541.3,383.4 522.2,403.1 662.6,257.9 526.7,398.4 592.0,329.6 580.8,342.2 597.6,323.5 528.9,395.5 590.1,332.1 530.7,394.3 573.2,349.3 629.1,290.8 535.5,391.6 513.0,410.8 618.6,302.6 653.4,267.1 536.7,388.7 522.8,402.9 540.5,386.3 528.3,396.5 597.5,323.9 603.5,318.6 529.7,396.5 548.1,377.1 641.8,279.3 598.4,324.2 593.9,326.9 640.8,278.6 574.9,347.9 537.7,387.1 533.7,392.5 595.8,326.4 617.7,304.6 640.9,279.2 627.3,292.9 626.9,294.5 519.5,406.8 580.1,343.7 630.2,290.2 516.1,407.9 513.0,411.5 608.5,312.6 540.5,383.9 604.3,316.7 513.0,412.2 517.4,408.8 513.9,410.2 609.6,311.8 613.2,308.0 602.3,320.5 659.7,260.1 556.2,368.2 559.8,365.0 648.1,271.8 605.0,316.6 566.1,357.9 570.2,354.3 561.0,362.1 595.6,325.3 564.0,360.0 573.6,350.5 617.1,303.7 604.6,316.5 595.1,326.0 515.0,411.0 603.6,318.4 577.1,345.4 554.2,370.7 642.0,278.3 626.7,294.1 663.2,255.7 525.0,400.9 574.5,350.1 635.6,285.9 539.9,386.8 544.5,381.5 562.9,361.0 517.1,408.9 624.8,297.6 642.1,276.7 536.8,389.6 529.5,396.5 618.9,303.7 663.1,256.5 671.8,247.2 605.2,315.7 602.2,318.5 521.7,404.6 575.4,349.1 626.2,295.3 655.7,263.7 627.5,292.4 592.8,328.1 590.4,330.7 662.1,256.7 635.2,285.1 545.0,381.1 664.9,253.6 646.2,274.7 614.6,306.4 644.6,274.5 632.1,288.6 568.0,355.6 628.1,292.4 574.5,349.9 516.2,408.0 575.1,348.0 601.0,320.3 638.2,280.9 598.9,322.3 530.6,394.3 573.9,350.2 641.3,279.3 568.7,356.2 624.9,295.6 563.5,359.4 542.1,383.4 661.3,257.2 527.6,398.2 639.2,279.8 618.4,303.1 520.2,405.0 513.5,411.7 552.4,373.4 625.0,295.5 639.7,281.1 572.0,352.9 656.9,263.8 529.6,395.0 640.4,279.1 628.4,293.3 567.8,356.2 674.7,244.1 569.6,353.4 553.2,370.5 617.6,304.6 601.6,321.1 539.3,386.9 569.2,353.5 646.2,274.2 567.4,356.7 638.5,281.3 608.0,312.5 638.4,282.5 549.2,376.4 656.4,262.9 530.0,394.6 607.9,313.4 671.2,248.4 533.5,391.7 529.6,395.4 544.5,381.4 516.1,409.2 624.5,298.0 597.9,323.8 554.9,369.8 628.9,291.9 595.7,325.0 558.7,366.0 545.7,378.6 561.7,363.3 652.6,268.3 571.9,353.1 612.2,308.9 636.3,282.9 553.8,371.1 623.9,298.3 585.4,338.1 663.3,257.0 537.1,389.2 526.1,398.9 518.5,406.8 582.2,341.8 582.5,340.8 542.5,382.0 644.7,274.4 636.6,283.8 624.6,297.6 620.2,302.4 626.5,295.5 640.4,279.5 588.6,333.9 550.0,375.9 534.5,391.3 564.8,358.5 600.7,320.9 672.1,246.6 653.1,267.4 599.7,321.8 522.8,401.4 535.1,392.0 548.8,375.4 532.6,394.5 574.7,350.1 625.0,296.3 515.3,409.7 547.2,378.1 662.1,256.8 592.4,330.0 598.1,324.3 607.4,314.7 621.1,301.4 548.7,376.1 623.6,297.3 526.8,398.4 642.7,277.3 641.1,278.3 564.5,359.6 637.6,281.5 533.7,392.6 654.5,266.3 591.2,329.9 589.2,332.5 541.9,383.3 642.8,277.9 591.8,329.4 557.3,367.6 545.6,380.1 607.6,313.3 519.3,404.8 573.0,349.8 521.1,404.5 656.3,262.2 575.1,347.7 522.9,403.0 595.8,324.9 549.5,376.2 610.3,310.3 645.3,274.5 605.9,316.2 650.2,269.9 610.7,312.0 643.6,275.1 576.7,347.5 625.7,296.2 565.0,358.4 632.1,288.3 655.6,263.2 559.7,364.2 591.6,329.7 582.6,340.1 534.3,392.7 567.8,355.2 570.1,354.3 652.5,266.7 627.0,294.4 533.2,393.8 535.7,390.2 556.7,368.1 610.8,311.0 549.7,375.4 535.6,389.8 619.8,301.2 570.4,352.7 590.4,331.9 644.8,275.0 667.2,251.7 626.3,294.1 628.7,292.5 612.5,307.7 601.0,321.6 530.2,395.0 601.2,319.9 545.6,380.0 543.6,382.9 562.1,361.8 594.2,328.0 659.9,258.9 534.2,391.6 574.3,349.2 542.8,383.4 643.6,275.7 550.6,375.1 588.0,333.9 576.1,347.3 610.1,312.4 527.3,397.0 618.5,302.2 628.5,292.6 556.1,368.7 672.8,246.8 625.4,297.0 539.3,387.0 565.3,359.0 530.7,393.8 575.5,348.4 515.2,410.4 627.4,293.3 672.7,247.7 664.9,254.4 541.1,384.1 590.6,331.0 611.4,310.7 594.9,327.4 602.5,318.7 523.7,401.1 593.7,327.9 607.7,313.6 599.9,322.9 673.1,246.1 523.2,406.2 541.5,389.2 658.1,264.8 576.0,351.7 566.8,360.5 621.7,303.3 554.2,375.6 570.5,357.5 620.4,304.8 534.5,396.6 672.9,249.6 651.4,272.2 556.8,372.9 528.4,401.6 627.5,298.0 648.1,275.4 538.7,391.9 543.6,386.9 656.1,267.2 565.9,361.3 578.2,348.4 559.6,368.8 609.2,316.4 591.6,335.5 535.6,395.5 636.4,287.7 514.3,414.1 594.8,330.8 576.2,350.9 608.3,317.3 550.0,378.6 579.4,347.6 608.4,316.4 579.2,351.4 586.4,322.2 515.8,398.9 640.0,270.4 604.5,314.3 660.1,257.4 658.0,260.3 670.8,247.3 518.0,407.2 613.6,299.7 671.7,247.5 561.3,349.4 665.1,251.1 559.4,352.6 588.4,322.9 625.7,287.9 648.5,267.5 635.9,279.2 518.2,406.5 617.7,297.8 641.6,276.9 557.2,351.6 555.3,353.1 673.3,243.2 665.9,251.2 624.4,294.7 639.4,275.5 669.6,248.7 513.0,384.9 664.1,251.6 639.9,280.2 570.9,349.8 520.4,386.8 609.7,309.8 598.4,320.1 634.1,286.0 639.2,275.5 670.2,247.7 551.3,352.6 532.9,373.1 534.3,385.5 627.3,290.9 665.5,249.1 615.0,292.7 528.7,385.1 596.0,317.4 619.2,297.9 562.8,341.5 580.8,329.6 644.9,266.9 547.6,365.8 550.8,367.4 516.7,405.6 519.6,381.5 592.5,313.7 518.1,405.5 558.0,344.8 643.9,273.3 675.0,242.3 631.6,286.5 515.5,402.9 651.7,265.1 652.2,263.2 565.4,350.4 617.0,291.2 603.3,310.8 545.6,379.1 557.7,355.9 560.3,350.2 670.2,247.4 587.4,320.5 659.7,254.5 535.7,382.0 602.7,308.9 640.0,276.6 612.2,304.6 546.6,367.4 634.9,277.3 630.9,280.6 579.7,328.7 525.6,377.6 524.0,382.4 536.9,386.7 548.4,368.5 647.3,268.5 643.4,271.5 548.7,355.3 646.8,263.6 611.7,300.1 626.8,288.0 602.6,311.0 620.4,298.8 580.4,342.8 584.4,329.4 662.8,252.5 652.5,265.8 589.1,324.1 666.8,248.8 604.6,303.0 647.7,263.3 514.5,404.6 548.5,372.3 565.2,355.9 598.6,316.2 641.9,276.2 526.1,383.7 579.7,338.0 530.6,379.5 611.2,309.9 514.0,386.4 599.0,309.2 564.2,357.2 570.3,349.7 627.1,286.4 583.4,333.5 543.1,364.7 561.9,344.1 562.8,349.2 635.6,281.9 549.6,371.5 672.6,243.7 608.9,312.7 657.0,256.6 585.0,322.3 583.5,336.7 617.7,298.3 663.8,254.1 650.0,265.7 563.4,343.3 526.9,396.7 552.9,351.7 513.0,397.3 656.4,258.2 675.2,242.2 656.4,258.9 673.0,246.1 593.5,328.0 614.7,306.0 671.2,245.3 592.5,325.3 673.5,246.0 577.3,336.2 581.5,335.5 522.3,387.5 565.3,348.7 529.7,379.4 663.6,255.9 547.9,363.8 601.6,315.0 579.0,337.3 623.6,286.3 612.9,298.4 565.8,346.1 517.5,386.0 532.7,387.6 519.0,392.3 533.4,384.0 548.3,375.2 552.8,369.7 643.7,266.8 631.9,289.2 564.0,349.0 606.1,306.4 517.4,402.5 630.4,288.2 655.3,261.1 541.5,377.5 617.3,290.7 568.3,352.6 628.9,284.6 535.6,373.4 648.3,262.9 629.1,283.1 669.1,246.9 587.9,332.0 578.8,340.7 555.1,368.0 588.8,327.5 542.6,382.9 635.6,282.8 667.5,247.9 639.1,272.7 584.4,335.6 602.2,304.8 616.0,300.6 569.5,343.2 592.4,326.8 649.4,269.4 573.2,334.8 523.0,401.8 612.3,304.1 541.1,365.7 590.7,319.8 604.5,302.8 519.5,392.5 648.7,271.5 558.2,365.8 672.3,246.5 517.0,406.3 548.1,360.5 600.9,316.1 606.7,306.2 513.1,409.4 605.1,301.5 629.3,286.4 606.8,301.0 562.2,344.5 562.9,341.1 523.3,392.2 560.5,346.6 553.7,350.8 647.2,268.0 556.5,365.9 641.6,272.2 580.2,330.1 592.6,322.1 594.9,311.7 551.6,365.6 537.4,380.0 589.4,324.5 560.5,357.5 674.0,244.1 538.3,382.9 599.0,318.6 617.6,303.9 616.9,303.4 642.4,269.3 540.4,378.1 582.9,328.3 552.7,356.1 514.0,401.1 655.1,264.6 664.1,255.2 670.5,246.0 583.8,334.2 553.4,366.2 635.6,282.8 562.8,351.8 654.2,264.7 666.3,249.5 526.1,395.2 570.4,352.4 640.7,272.6 612.9,295.0 569.7,348.7 649.9,261.8 517.2,394.3 673.3,245.9 615.5,302.7 513.0,383.9 513.0,385.0 513.0,386.1 513.0,387.2 513.0,388.3 513.0,389.4 513.0,390.5 513.0,391.6 513.0,392.7 513.0,393.8 513.0,394.9 513.0,396.0 513.0,397.1 513.0,398.2 513.0,399.3 513.0,400.4 513.0,401.5 513.0,402.6 513.0,403.7 513.0,404.8 513.0,405.9 513.0,407.0 513.0,408.1 513.0,409.2 513.0,410.3 513.0,411.4 587.0,357.3 571.6,358.8 557.7,372.1 516.9,408.5 552.0,341.5 523.5,369.5 521.5,371.0"/>
<line x1="487.6" y1="436.7" x2="701.1" y2="214.8" stroke="#141414" stroke-width="0.95"/>
</g>
<rect x="505.4" y="233.3" width="177.9" height="185.1" fill="none" stroke="#333" stroke-width="1"/>
<line x1="514.2" y1="418.4" x2="514.2" y2="421.7" class="tk"/>
<text class="tl" x="514.2" y="433.9" text-anchor="middle">0.0</text>
<line x1="502.1" y1="409.1" x2="505.4" y2="409.1" class="tk"/>
<text class="tl" x="499.4" y="413.7" text-anchor="end">0.0</text>
<line x1="549.5" y1="418.4" x2="549.5" y2="421.7" class="tk"/>
<text class="tl" x="549.5" y="433.9" text-anchor="middle">0.2</text>
<line x1="502.1" y1="372.9" x2="505.4" y2="372.9" class="tk"/>
<text class="tl" x="499.4" y="377.5" text-anchor="end">0.2</text>
<line x1="584.8" y1="418.4" x2="584.8" y2="421.7" class="tk"/>
<text class="tl" x="584.8" y="433.9" text-anchor="middle">0.4</text>
<line x1="502.1" y1="336.7" x2="505.4" y2="336.7" class="tk"/>
<text class="tl" x="499.4" y="341.3" text-anchor="end">0.4</text>
<line x1="620.1" y1="418.4" x2="620.1" y2="421.7" class="tk"/>
<text class="tl" x="620.1" y="433.9" text-anchor="middle">0.6</text>
<line x1="502.1" y1="300.5" x2="505.4" y2="300.5" class="tk"/>
<text class="tl" x="499.4" y="305.1" text-anchor="end">0.6</text>
<line x1="655.4" y1="418.4" x2="655.4" y2="421.7" class="tk"/>
<text class="tl" x="655.4" y="433.9" text-anchor="middle">0.8</text>
<line x1="502.1" y1="264.3" x2="505.4" y2="264.3" class="tk"/>
<text class="tl" x="499.4" y="268.9" text-anchor="end">0.8</text>
<text class="at" x="594.3" y="451.4" text-anchor="middle">PLS-CV</text>
<text class="at" transform="translate(476.6,326.4) rotate(-90)" text-anchor="middle">BLUP-HAT</text>
</svg></body></html>
